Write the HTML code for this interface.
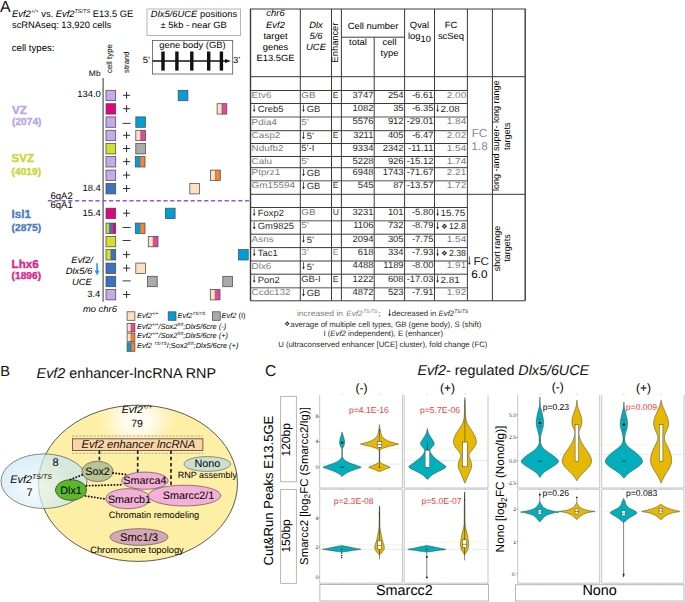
<!DOCTYPE html>
<html><head><meta charset="utf-8"><style>
html,body{margin:0;padding:0;background:#fff;}
svg{display:block;font-family:"Liberation Sans", sans-serif;text-rendering:geometricPrecision;}
</style></head><body>
<svg width="685" height="602" viewBox="0 0 685 602">
<defs>
<radialGradient id="yg" cx="137" cy="419" r="34" gradientUnits="userSpaceOnUse" gradientTransform="translate(137 419) scale(1.15 0.9) translate(-137 -419)">
<stop offset="0" stop-color="#ffffff"/><stop offset="0.35" stop-color="#fffcec"/><stop offset="0.7" stop-color="#fef4c4"/><stop offset="1" stop-color="#fdf0a6"/></radialGradient>
<radialGradient id="bg" cx="33" cy="489" r="40" gradientUnits="userSpaceOnUse">
<stop offset="0" stop-color="#f4fafd"/><stop offset="0.45" stop-color="#dbeff8"/><stop offset="1" stop-color="#c3e4f4"/></radialGradient>
</defs>
<rect width="685" height="602" fill="#fff"/>
<text x="0" y="11.6" font-size="16" fill="#111">A</text>
<text x="12" y="16.6" font-size="9.35"><tspan font-style="italic">Evf2</tspan><tspan font-size="5.5" dy="-3.5" font-style="italic">+/+</tspan><tspan dy="3.5"> vs. </tspan><tspan font-style="italic">Evf2</tspan><tspan font-size="5.5" dy="-3.5" font-style="italic">TS/TS</tspan><tspan dy="3.5"> E13.5 GE</tspan></text>
<text x="12" y="27.8" font-size="9.35">scRNAseq: 13,920 cells</text>
<text x="11.8" y="50.7" font-size="9.6">cell types:</text>
<rect x="147" y="9" width="93.5" height="26.5" fill="white" stroke="#b5b5b5" stroke-width="1"/>
<text x="194" y="16.8" font-size="9" transform="matrix(1.045 0 0 1 -8.730 0)" text-anchor="middle"><tspan font-style="italic">Dlx5/6UCE</tspan> positions</text>
<text x="193.6" y="27.6" font-size="9" transform="matrix(1.045 0 0 1 -8.712 0)" text-anchor="middle">± 5kb - near GB</text>
<rect x="152.5" y="40.5" width="80.2" height="33.5" fill="white" stroke="#555" stroke-width="0.8"/>
<text x="192.5" y="48.3" font-size="9" transform="matrix(1.045 0 0 1 -8.662 0)" text-anchor="middle">gene body (GB)</text>
<line x1="152.5" y1="61" x2="227" y2="61" stroke="#111" stroke-width="1.6" />
<path d="M225 58.9 L231 61 L225 63.1 Z" fill="#111"/>
<rect x="161.3" y="51.5" width="3.4" height="19.1" fill="#111"/>
<rect x="175.20000000000002" y="51.5" width="3.4" height="19.1" fill="#111"/>
<rect x="190.10000000000002" y="51.5" width="3.4" height="19.1" fill="#111"/>
<rect x="207.0" y="51.5" width="3.4" height="19.1" fill="#111"/>
<rect x="219.70000000000002" y="51.5" width="3.4" height="19.1" fill="#111"/>
<text x="142.8" y="63.2" font-size="9" transform="matrix(1.045 0 0 1 -6.426 0)">5’</text>
<text x="233" y="63.2" font-size="9" transform="matrix(1.045 0 0 1 -10.485 0)">3’</text>
<text x="112.3" y="73" font-size="7.9" transform="rotate(-90 112.3 73)">cell type</text>
<text x="128.7" y="73" font-size="7.8" transform="rotate(-90 128.7 73)">strand</text>
<text x="100.6" y="76.1" font-size="8.1" transform="matrix(1.045 0 0 1 -4.527 0)" text-anchor="end">Mb</text>
<line x1="103.1" y1="78" x2="103.1" y2="301.7" stroke="#444" stroke-width="1.1" />
<text x="12" y="113.7" font-size="11.6" fill="#bca4e4" font-weight="bold" stroke="#bca4e4" stroke-width="0.35">VZ</text>
<text x="12" y="125.3" font-size="10.2" fill="#bca4e4" font-weight="bold" stroke="#bca4e4" stroke-width="0.35">(2074)</text>
<text x="11.6" y="162.1" font-size="11.6" fill="#c9d63a" font-weight="bold" stroke="#c9d63a" stroke-width="0.35">SVZ</text>
<text x="11.6" y="175.2" font-size="10.2" fill="#c9d63a" font-weight="bold" stroke="#c9d63a" stroke-width="0.35">(4019)</text>
<text x="11.6" y="218" font-size="11.6" fill="#4a7cc2" font-weight="bold" stroke="#4a7cc2" stroke-width="0.35">Isl1</text>
<text x="11.6" y="230.5" font-size="10.2" fill="#4a7cc2" font-weight="bold" stroke="#4a7cc2" stroke-width="0.35">(2875)</text>
<text x="11.6" y="267.6" font-size="11.6" fill="#e0218a" font-weight="bold" stroke="#e0218a" stroke-width="0.35">Lhx6</text>
<text x="11.6" y="279.3" font-size="10.2" fill="#e0218a" font-weight="bold" stroke="#e0218a" stroke-width="0.35">(1896)</text>
<text x="50.5" y="199" font-size="9.5">6qA2</text>
<text x="50.5" y="208.1" font-size="9.5">6qA1</text>
<line x1="47.8" y1="200.7" x2="249" y2="200.7" stroke="#9955dd" stroke-width="1.6" stroke-dasharray="4.2 2.6"/>
<text x="100.8" y="96.6" font-size="9" transform="matrix(1.045 0 0 1 -4.536 0)" text-anchor="end">134.0</text>
<text x="100.8" y="190.8" font-size="9" transform="matrix(1.045 0 0 1 -4.536 0)" text-anchor="end">18.4</text>
<text x="100.8" y="216.4" font-size="9" transform="matrix(1.045 0 0 1 -4.536 0)" text-anchor="end">15.4</text>
<text x="100.3" y="296.8" font-size="9" transform="matrix(1.045 0 0 1 -4.513 0)" text-anchor="end">3.4</text>
<text x="92.8" y="263" font-size="9" transform="matrix(1.045 0 0 1 -4.176 0)" text-anchor="end" font-style="italic">Evf2/</text>
<text x="92.3" y="274.2" font-size="9" transform="matrix(1.045 0 0 1 -4.153 0)" text-anchor="end" font-style="italic">Dlx5/6</text>
<text x="91.8" y="285.3" font-size="9" transform="matrix(1.045 0 0 1 -4.131 0)" text-anchor="end" font-style="italic">UCE</text>
<line x1="97.1" y1="263.3" x2="97.1" y2="272" stroke="#19a3d6" stroke-width="1.6" />
<path d="M94.6 270.5 L99.6 270.5 L97.1 275.5 Z" fill="#19a3d6"/>
<text x="82.9" y="312.2" font-size="9" transform="matrix(1.045 0 0 1 -3.730 0)" font-style="italic">mo chr6</text>
<rect x="106.0" y="90.3" width="9.7" height="10.4" fill="#c6a9ec"/>
<rect x="106" y="90.3" width="9.7" height="10.4" fill="none" stroke="#4a4a4a" stroke-width="0.75"/>
<line x1="123.1" y1="95.3" x2="130.1" y2="95.3" stroke="#222" stroke-width="0.95" />
<line x1="126.6" y1="91.8" x2="126.6" y2="98.8" stroke="#222" stroke-width="0.95" />
<rect x="106.0" y="103.7" width="9.7" height="10.4" fill="#e0047e"/>
<rect x="106" y="103.7" width="9.7" height="10.4" fill="none" stroke="#4a4a4a" stroke-width="0.75"/>
<line x1="123.1" y1="108.7" x2="130.1" y2="108.7" stroke="#222" stroke-width="0.95" />
<line x1="126.6" y1="105.2" x2="126.6" y2="112.2" stroke="#222" stroke-width="0.95" />
<rect x="106.0" y="116.9" width="9.7" height="10.4" fill="#c6a9ec"/>
<rect x="106" y="116.9" width="9.7" height="10.4" fill="none" stroke="#4a4a4a" stroke-width="0.75"/>
<line x1="122.5" y1="123.4" x2="130.7" y2="123.4" stroke="#333" stroke-width="0.95" />
<rect x="106.0" y="130.3" width="9.7" height="10.4" fill="#c6a9ec"/>
<rect x="106" y="130.3" width="9.7" height="10.4" fill="none" stroke="#4a4a4a" stroke-width="0.75"/>
<line x1="123.1" y1="135.3" x2="130.1" y2="135.3" stroke="#222" stroke-width="0.95" />
<line x1="126.6" y1="131.8" x2="126.6" y2="138.8" stroke="#222" stroke-width="0.95" />
<rect x="106.0" y="143.5" width="9.7" height="10.4" fill="#d3df30"/>
<rect x="106" y="143.5" width="9.7" height="10.4" fill="none" stroke="#4a4a4a" stroke-width="0.75"/>
<line x1="123.1" y1="148.5" x2="130.1" y2="148.5" stroke="#222" stroke-width="0.95" />
<line x1="126.6" y1="145.0" x2="126.6" y2="152.0" stroke="#222" stroke-width="0.95" />
<rect x="106.0" y="156.6" width="9.7" height="10.4" fill="#c6a9ec"/>
<rect x="106" y="156.6" width="9.7" height="10.4" fill="none" stroke="#4a4a4a" stroke-width="0.75"/>
<line x1="123.1" y1="161.6" x2="130.1" y2="161.6" stroke="#222" stroke-width="0.95" />
<line x1="126.6" y1="158.1" x2="126.6" y2="165.1" stroke="#222" stroke-width="0.95" />
<rect x="106.0" y="170.1" width="9.7" height="10.4" fill="#c6a9ec"/>
<rect x="106" y="170.1" width="9.7" height="10.4" fill="none" stroke="#4a4a4a" stroke-width="0.75"/>
<line x1="123.1" y1="175.1" x2="130.1" y2="175.1" stroke="#222" stroke-width="0.95" />
<line x1="126.6" y1="171.6" x2="126.6" y2="178.6" stroke="#222" stroke-width="0.95" />
<rect x="106.0" y="183.5" width="9.7" height="10.4" fill="#3b71bf"/>
<rect x="106" y="183.5" width="9.7" height="10.4" fill="none" stroke="#4a4a4a" stroke-width="0.75"/>
<line x1="123.1" y1="188.5" x2="130.1" y2="188.5" stroke="#222" stroke-width="0.95" />
<line x1="126.6" y1="185.0" x2="126.6" y2="192.0" stroke="#222" stroke-width="0.95" />
<rect x="106.0" y="208.2" width="9.7" height="10.4" fill="#e0047e"/>
<rect x="106" y="208.2" width="9.7" height="10.4" fill="none" stroke="#4a4a4a" stroke-width="0.75"/>
<line x1="123.1" y1="213.2" x2="130.1" y2="213.2" stroke="#222" stroke-width="0.95" />
<line x1="126.6" y1="209.7" x2="126.6" y2="216.7" stroke="#222" stroke-width="0.95" />
<rect x="106.0" y="223.1" width="3.233333333333333" height="10.4" fill="#d3df30"/>
<rect x="109.23333333333333" y="223.1" width="3.233333333333333" height="10.4" fill="#3b71bf"/>
<rect x="112.46666666666667" y="223.1" width="3.233333333333333" height="10.4" fill="#e0047e"/>
<line x1="109.23333333333333" y1="223.1" x2="109.23333333333333" y2="233.5" stroke="#555" stroke-width="0.5" />
<line x1="112.46666666666667" y1="223.1" x2="112.46666666666667" y2="233.5" stroke="#555" stroke-width="0.5" />
<rect x="106" y="223.1" width="9.7" height="10.4" fill="none" stroke="#4a4a4a" stroke-width="0.75"/>
<line x1="122.5" y1="227.5" x2="130.7" y2="227.5" stroke="#333" stroke-width="0.95" />
<rect x="106.0" y="236.4" width="9.7" height="10.4" fill="#d3df30"/>
<rect x="106" y="236.4" width="9.7" height="10.4" fill="none" stroke="#4a4a4a" stroke-width="0.75"/>
<line x1="122.5" y1="240.5" x2="130.7" y2="240.5" stroke="#333" stroke-width="0.95" />
<rect x="106.0" y="249.6" width="4.85" height="10.4" fill="#d3df30"/>
<rect x="110.85" y="249.6" width="4.85" height="10.4" fill="#3b71bf"/>
<line x1="110.85" y1="249.6" x2="110.85" y2="260.0" stroke="#555" stroke-width="0.5" />
<rect x="106" y="249.6" width="9.7" height="10.4" fill="none" stroke="#4a4a4a" stroke-width="0.75"/>
<line x1="123.1" y1="254.6" x2="130.1" y2="254.6" stroke="#222" stroke-width="0.95" />
<line x1="126.6" y1="251.1" x2="126.6" y2="258.1" stroke="#222" stroke-width="0.95" />
<rect x="106.0" y="263.1" width="9.7" height="10.4" fill="#3b71bf"/>
<rect x="106" y="263.1" width="9.7" height="10.4" fill="none" stroke="#4a4a4a" stroke-width="0.75"/>
<line x1="123.1" y1="268.1" x2="130.1" y2="268.1" stroke="#222" stroke-width="0.95" />
<line x1="126.6" y1="264.6" x2="126.6" y2="271.6" stroke="#222" stroke-width="0.95" />
<rect x="106.0" y="276.3" width="9.7" height="10.4" fill="#3b71bf"/>
<rect x="106" y="276.3" width="9.7" height="10.4" fill="none" stroke="#4a4a4a" stroke-width="0.75"/>
<line x1="122.5" y1="280.9" x2="130.7" y2="280.9" stroke="#333" stroke-width="0.95" />
<rect x="106.0" y="289.5" width="9.7" height="10.4" fill="#c6a9ec"/>
<rect x="106" y="289.5" width="9.7" height="10.4" fill="none" stroke="#4a4a4a" stroke-width="0.75"/>
<line x1="123.1" y1="294.5" x2="130.1" y2="294.5" stroke="#222" stroke-width="0.95" />
<line x1="126.6" y1="291.0" x2="126.6" y2="298.0" stroke="#222" stroke-width="0.95" />
<rect x="178.2" y="90.3" width="9.7" height="10.4" fill="#00a0d6"/>
<rect x="178.2" y="90.3" width="9.7" height="10.4" fill="none" stroke="#4a4a4a" stroke-width="0.75"/>
<rect x="217.1" y="103.7" width="4.85" height="10.4" fill="#fde0c2"/>
<rect x="221.95" y="103.7" width="4.85" height="10.4" fill="#e4479e"/>
<line x1="221.95" y1="103.7" x2="221.95" y2="114.10000000000001" stroke="#555" stroke-width="0.5" />
<rect x="217.1" y="103.7" width="9.7" height="10.4" fill="none" stroke="#4a4a4a" stroke-width="0.75"/>
<rect x="135.8" y="116.9" width="9.7" height="10.4" fill="#00a0d6"/>
<rect x="135.8" y="116.9" width="9.7" height="10.4" fill="none" stroke="#4a4a4a" stroke-width="0.75"/>
<rect x="135.8" y="130.3" width="4.85" height="10.4" fill="#fde0c2"/>
<rect x="140.65" y="130.3" width="4.85" height="10.4" fill="#e4479e"/>
<line x1="140.65" y1="130.3" x2="140.65" y2="140.70000000000002" stroke="#555" stroke-width="0.5" />
<rect x="135.8" y="130.3" width="9.7" height="10.4" fill="none" stroke="#4a4a4a" stroke-width="0.75"/>
<rect x="135.8" y="143.5" width="9.7" height="10.4" fill="#aaaaaa"/>
<rect x="135.8" y="143.5" width="9.7" height="10.4" fill="none" stroke="#4a4a4a" stroke-width="0.75"/>
<rect x="135.3" y="156.6" width="4.85" height="10.4" fill="#00a0d6"/>
<rect x="140.15" y="156.6" width="4.85" height="10.4" fill="#fb8232"/>
<line x1="140.15" y1="156.6" x2="140.15" y2="167.0" stroke="#555" stroke-width="0.5" />
<rect x="135.3" y="156.6" width="9.7" height="10.4" fill="none" stroke="#4a4a4a" stroke-width="0.75"/>
<rect x="210.6" y="170.1" width="4.85" height="10.4" fill="#fde0c2"/>
<rect x="215.45" y="170.1" width="4.85" height="10.4" fill="#fb8232"/>
<line x1="215.45" y1="170.1" x2="215.45" y2="180.5" stroke="#555" stroke-width="0.5" />
<rect x="210.6" y="170.1" width="9.7" height="10.4" fill="none" stroke="#4a4a4a" stroke-width="0.75"/>
<rect x="189.8" y="183.5" width="9.7" height="10.4" fill="#fde0c2"/>
<rect x="189.8" y="183.5" width="9.7" height="10.4" fill="none" stroke="#4a4a4a" stroke-width="0.75"/>
<rect x="165.4" y="208.2" width="9.7" height="10.4" fill="#00a0d6"/>
<rect x="165.4" y="208.2" width="9.7" height="10.4" fill="none" stroke="#4a4a4a" stroke-width="0.75"/>
<rect x="135.3" y="223.1" width="4.85" height="10.4" fill="#00a0d6"/>
<rect x="140.15" y="223.1" width="4.85" height="10.4" fill="#fb8232"/>
<line x1="140.15" y1="223.1" x2="140.15" y2="233.5" stroke="#555" stroke-width="0.5" />
<rect x="135.3" y="223.1" width="9.7" height="10.4" fill="none" stroke="#4a4a4a" stroke-width="0.75"/>
<rect x="148.3" y="236.4" width="4.85" height="10.4" fill="#fde0c2"/>
<rect x="153.15" y="236.4" width="4.85" height="10.4" fill="#e4479e"/>
<line x1="153.15" y1="236.4" x2="153.15" y2="246.8" stroke="#555" stroke-width="0.5" />
<rect x="148.3" y="236.4" width="9.7" height="10.4" fill="none" stroke="#4a4a4a" stroke-width="0.75"/>
<rect x="238.5" y="249.6" width="9.7" height="10.4" fill="#00a0d6"/>
<rect x="238.5" y="249.6" width="9.7" height="10.4" fill="none" stroke="#4a4a4a" stroke-width="0.75"/>
<rect x="135.8" y="263.1" width="9.7" height="10.4" fill="#fde0c2"/>
<rect x="135.8" y="263.1" width="9.7" height="10.4" fill="none" stroke="#4a4a4a" stroke-width="0.75"/>
<rect x="147.5" y="276.3" width="9.7" height="10.4" fill="#aaaaaa"/>
<rect x="147.5" y="276.3" width="9.7" height="10.4" fill="none" stroke="#4a4a4a" stroke-width="0.75"/>
<rect x="222.8" y="276.3" width="9.7" height="10.4" fill="#aaaaaa"/>
<rect x="222.8" y="276.3" width="9.7" height="10.4" fill="none" stroke="#4a4a4a" stroke-width="0.75"/>
<rect x="210.3" y="289.5" width="4.85" height="10.4" fill="#fde0c2"/>
<rect x="215.15" y="289.5" width="4.85" height="10.4" fill="#e4479e"/>
<line x1="215.15" y1="289.5" x2="215.15" y2="299.9" stroke="#555" stroke-width="0.5" />
<rect x="210.3" y="289.5" width="9.7" height="10.4" fill="none" stroke="#4a4a4a" stroke-width="0.75"/>
<rect x="127.1" y="311.8" width="7.8" height="8.5" fill="#fde0c2"/>
<rect x="127.1" y="311.8" width="7.8" height="8.5" fill="none" stroke="#4a4a4a" stroke-width="0.75"/>
<text x="137" y="317.6" font-size="7.45"><tspan font-style="italic">Evf2</tspan><tspan font-size="4.5" dy="-3" font-style="italic">+/+</tspan></text>
<rect x="168.2" y="311.8" width="7.8" height="8.5" fill="#00a0d6"/>
<rect x="168.2" y="311.8" width="7.8" height="8.5" fill="none" stroke="#4a4a4a" stroke-width="0.75"/>
<text x="177.5" y="317.6" font-size="7.45"><tspan font-style="italic">Evf2</tspan><tspan font-size="4.5" dy="-3" font-style="italic">TS/TS</tspan></text>
<rect x="212.4" y="311.8" width="7.8" height="8.5" fill="#aaaaaa"/>
<rect x="212.4" y="311.8" width="7.8" height="8.5" fill="none" stroke="#4a4a4a" stroke-width="0.75"/>
<text x="221.5" y="317.6" font-size="7.45"><tspan font-style="italic">Evf2</tspan> (I)</text>
<rect x="127.1" y="323.4" width="3.9" height="8.5" fill="#fde0c2"/>
<rect x="131.0" y="323.4" width="3.9" height="8.5" fill="#e4479e"/>
<line x1="131.0" y1="323.4" x2="131.0" y2="331.9" stroke="#555" stroke-width="0.5" />
<rect x="127.1" y="323.4" width="7.8" height="8.5" fill="none" stroke="#4a4a4a" stroke-width="0.75"/>
<text x="137" y="328.8" font-size="7.45" font-style="italic"><tspan font-style="italic">Evf2</tspan><tspan font-size="4.5" dy="-3" font-style="italic">+/+</tspan><tspan dy="3">/Sox2</tspan><tspan font-size="4.5" dy="-3" font-style="italic">fl/fl</tspan><tspan dy="3">;Dlx5/6cre (-)</tspan></text>
<rect x="127.1" y="333.1" width="3.9" height="8.5" fill="#fde0c2"/>
<rect x="131.0" y="333.1" width="3.9" height="8.5" fill="#fb8232"/>
<line x1="131.0" y1="333.1" x2="131.0" y2="341.6" stroke="#555" stroke-width="0.5" />
<rect x="127.1" y="333.1" width="7.8" height="8.5" fill="none" stroke="#4a4a4a" stroke-width="0.75"/>
<text x="137" y="338.4" font-size="7.45" font-style="italic"><tspan font-style="italic">Evf2</tspan><tspan font-size="4.5" dy="-3" font-style="italic">+/+</tspan><tspan dy="3">/Sox2</tspan><tspan font-size="4.5" dy="-3" font-style="italic">fl/fl</tspan><tspan dy="3">;Dlx5/6cre (+)</tspan></text>
<rect x="127.1" y="342.8" width="3.9" height="8.5" fill="#00a0d6"/>
<rect x="131.0" y="342.8" width="3.9" height="8.5" fill="#fb8232"/>
<line x1="131.0" y1="342.8" x2="131.0" y2="351.3" stroke="#555" stroke-width="0.5" />
<rect x="127.1" y="342.8" width="7.8" height="8.5" fill="none" stroke="#4a4a4a" stroke-width="0.75"/>
<text x="137" y="348.4" font-size="7.45" font-style="italic">Evf2 <tspan font-size="4.5" dy="-3" font-style="italic">TS/TS</tspan><tspan dy="3" font-style="normal">/;Sox2</tspan><tspan font-size="4.5" dy="-3" font-style="italic">fl/fl</tspan><tspan dy="3">;Dlx5/6cre (+)</tspan></text>
<line x1="250.0" y1="9" x2="525.7" y2="9" stroke="#3a3a3a" stroke-width="1" />
<line x1="341.4" y1="37.2" x2="404.6" y2="37.2" stroke="#3a3a3a" stroke-width="1" />
<line x1="250.5" y1="76.7" x2="467.4" y2="76.7" stroke="#3a3a3a" stroke-width="1" />
<line x1="250.5" y1="90.5" x2="467.4" y2="90.5" stroke="#3a3a3a" stroke-width="1" />
<line x1="250.5" y1="103.5" x2="467.4" y2="103.5" stroke="#3a3a3a" stroke-width="1" />
<line x1="250.5" y1="117" x2="467.4" y2="117" stroke="#8c8c8c" stroke-width="1.5" />
<line x1="250.5" y1="130.7" x2="467.4" y2="130.7" stroke="#3a3a3a" stroke-width="1" />
<line x1="250.5" y1="143.5" x2="467.4" y2="143.5" stroke="#3a3a3a" stroke-width="1" />
<line x1="250.5" y1="156.5" x2="467.4" y2="156.5" stroke="#3a3a3a" stroke-width="1" />
<line x1="250.5" y1="167.7" x2="467.4" y2="167.7" stroke="#3a3a3a" stroke-width="1" />
<line x1="250.5" y1="180.8" x2="467.4" y2="180.8" stroke="#8c8c8c" stroke-width="1.5" />
<line x1="250.5" y1="194.3" x2="467.4" y2="194.3" stroke="#3a3a3a" stroke-width="1" />
<line x1="250.5" y1="207.5" x2="467.4" y2="207.5" stroke="#3a3a3a" stroke-width="1" />
<line x1="250.5" y1="220.8" x2="467.4" y2="220.8" stroke="#8c8c8c" stroke-width="1.5" />
<line x1="250.5" y1="234.2" x2="467.4" y2="234.2" stroke="#3a3a3a" stroke-width="1" />
<line x1="250.5" y1="247.6" x2="467.4" y2="247.6" stroke="#3a3a3a" stroke-width="1" />
<line x1="250.5" y1="261" x2="467.4" y2="261" stroke="#3a3a3a" stroke-width="1" />
<line x1="250.5" y1="274.2" x2="467.4" y2="274.2" stroke="#3a3a3a" stroke-width="1" />
<line x1="250.5" y1="287.8" x2="467.4" y2="287.8" stroke="#8c8c8c" stroke-width="1.5" />
<line x1="250.5" y1="300.8" x2="467.4" y2="300.8" stroke="#3a3a3a" stroke-width="1" />
<line x1="467.4" y1="76.7" x2="525.2" y2="76.7" stroke="#3a3a3a" stroke-width="1" />
<line x1="467.4" y1="194.3" x2="525.2" y2="194.3" stroke="#3a3a3a" stroke-width="1" />
<line x1="467.4" y1="300.8" x2="525.2" y2="300.8" stroke="#3a3a3a" stroke-width="1" />
<line x1="250.5" y1="9" x2="250.5" y2="300.8" stroke="#3a3a3a" stroke-width="1.4" />
<line x1="300.3" y1="9" x2="300.3" y2="300.8" stroke="#3a3a3a" stroke-width="1" />
<line x1="331.5" y1="9" x2="331.5" y2="300.8" stroke="#3a3a3a" stroke-width="1" />
<line x1="341.4" y1="9" x2="341.4" y2="300.8" stroke="#3a3a3a" stroke-width="1" />
<line x1="374.2" y1="37.2" x2="374.2" y2="300.8" stroke="#3a3a3a" stroke-width="1" />
<line x1="404.6" y1="9" x2="404.6" y2="300.8" stroke="#3a3a3a" stroke-width="1" />
<line x1="434.5" y1="9" x2="434.5" y2="300.8" stroke="#3a3a3a" stroke-width="1" />
<line x1="467.4" y1="9" x2="467.4" y2="300.8" stroke="#3a3a3a" stroke-width="1" />
<line x1="492.4" y1="9" x2="492.4" y2="300.8" stroke="#3a3a3a" stroke-width="1" />
<line x1="525.2" y1="9" x2="525.2" y2="300.8" stroke="#3a3a3a" stroke-width="1.4" />
<text x="275.5" y="16" font-size="9" transform="matrix(1.045 0 0 1 -12.397 0)" text-anchor="middle" font-style="italic">chr6</text>
<text x="275.5" y="27.7" font-size="9" transform="matrix(1.045 0 0 1 -12.397 0)" text-anchor="middle" font-style="italic">Evf2</text>
<text x="275.5" y="38.7" font-size="9" transform="matrix(1.045 0 0 1 -12.397 0)" text-anchor="middle">target</text>
<text x="275.5" y="49.6" font-size="9" transform="matrix(1.045 0 0 1 -12.397 0)" text-anchor="middle">genes</text>
<text x="275.5" y="61.3" font-size="9" transform="matrix(1.045 0 0 1 -12.397 0)" text-anchor="middle">E13.5GE</text>
<text x="316" y="27.7" font-size="9" transform="matrix(1.045 0 0 1 -14.220 0)" text-anchor="middle" font-style="italic">Dlx</text>
<text x="316" y="38.7" font-size="9" transform="matrix(1.045 0 0 1 -14.220 0)" text-anchor="middle" font-style="italic">5/6</text>
<text x="316" y="49.6" font-size="9" transform="matrix(1.045 0 0 1 -14.220 0)" text-anchor="middle" font-style="italic">UCE</text>
<text x="337.9" y="62.4" font-size="9.3" transform="rotate(-90 337.9 62.4)">Enhancer</text>
<text x="373" y="28.5" font-size="9" transform="matrix(1.045 0 0 1 -16.785 0)" text-anchor="middle">Cell number</text>
<text x="358" y="45" font-size="9" transform="matrix(1.045 0 0 1 -16.110 0)" text-anchor="middle">total</text>
<text x="389.5" y="44.5" font-size="9" transform="matrix(1.045 0 0 1 -17.527 0)" text-anchor="middle">cell</text>
<text x="389.5" y="55.5" font-size="9" transform="matrix(1.045 0 0 1 -17.527 0)" text-anchor="middle">type</text>
<text x="419.5" y="27.7" font-size="9" transform="matrix(1.045 0 0 1 -18.877 0)" text-anchor="middle">Qval</text>
<text x="408" y="38.6" font-size="9" transform="matrix(1.045 0 0 1 -18.360 0)">log<tspan font-size="9" dy="3">10</tspan></text>
<text x="451" y="27.7" font-size="9" transform="matrix(1.045 0 0 1 -20.295 0)" text-anchor="middle">FC</text>
<text x="451" y="39" font-size="9" transform="matrix(1.045 0 0 1 -20.295 0)" text-anchor="middle">scSeq</text>
<text x="251.60" y="98.0" font-size="8.6" fill="#7c7c7c" textLength="19.79" lengthAdjust="spacingAndGlyphs">Etv6</text>
<text x="301.20" y="98.0" font-size="8.6" fill="#7c7c7c" textLength="14.29" lengthAdjust="spacingAndGlyphs">GB</text>
<text x="332.80" y="98.0" font-size="8.6" fill="#3a3a3a" textLength="5.74" lengthAdjust="spacingAndGlyphs">E</text>
<text x="373.4" y="97.8" font-size="9" transform="matrix(1.045 0 0 1 -16.803 0)" fill="#2a2a2a" text-anchor="end">3747</text>
<text x="403.6" y="97.8" font-size="9" transform="matrix(1.045 0 0 1 -18.162 0)" fill="#2a2a2a" text-anchor="end">254</text>
<text x="433.4" y="97.8" font-size="9" transform="matrix(1.045 0 0 1 -19.503 0)" fill="#2a2a2a" text-anchor="end">-6.61</text>
<text x="446.78" y="97.8" font-size="8.6" fill="#7c7c7c" textLength="19.42" lengthAdjust="spacingAndGlyphs">2.00</text>
<line x1="254.2" y1="104.7" x2="254.2" y2="110.8" stroke="#222" stroke-width="0.75" />
<path d="M252.85 109.7 L255.54999999999998 109.7 L254.2 112.1 Z" fill="#222"/>
<text x="257.8" y="112.0" font-size="9" transform="matrix(1.045 0 0 1 -11.601 0)" fill="#2a2a2a">Creb5</text>
<line x1="303.5" y1="104.7" x2="303.5" y2="110.8" stroke="#222" stroke-width="0.75" />
<path d="M302.15 109.7 L304.85 109.7 L303.5 112.1 Z" fill="#222"/>
<text x="306.8" y="112.0" font-size="9" transform="matrix(1.045 0 0 1 -13.806 0)" fill="#2a2a2a">GB</text>
<text x="373.4" y="110.8" font-size="9" transform="matrix(1.045 0 0 1 -16.803 0)" fill="#2a2a2a" text-anchor="end">1082</text>
<text x="403.6" y="110.8" font-size="9" transform="matrix(1.045 0 0 1 -18.162 0)" fill="#2a2a2a" text-anchor="end">35</text>
<text x="433.4" y="110.8" font-size="9" transform="matrix(1.045 0 0 1 -19.503 0)" fill="#2a2a2a" text-anchor="end">-6.35</text>
<line x1="437.6" y1="104.7" x2="437.6" y2="110.8" stroke="#222" stroke-width="0.75" />
<path d="M436.25 109.7 L438.95000000000005 109.7 L437.6 112.1 Z" fill="#222"/>
<text x="440.6" y="112.0" font-size="9" transform="matrix(1.1 0 0 1 -44.060 0)" fill="#2a2a2a">2.08</text>
<text x="251.60" y="124.5" font-size="8.6" fill="#7c7c7c" textLength="25.29" lengthAdjust="spacingAndGlyphs">Pdia4</text>
<text x="301.20" y="124.5" font-size="8.6" fill="#7c7c7c" textLength="7.70" lengthAdjust="spacingAndGlyphs">5’</text>
<text x="373.4" y="124.3" font-size="9" transform="matrix(1.045 0 0 1 -16.803 0)" fill="#2a2a2a" text-anchor="end">5576</text>
<text x="403.6" y="124.3" font-size="9" transform="matrix(1.045 0 0 1 -18.162 0)" fill="#2a2a2a" text-anchor="end">912</text>
<text x="433.4" y="124.3" font-size="9" transform="matrix(1.045 0 0 1 -19.503 0)" fill="#2a2a2a" text-anchor="end">-29.01</text>
<text x="446.78" y="124.3" font-size="8.6" fill="#7c7c7c" textLength="19.42" lengthAdjust="spacingAndGlyphs">1.84</text>
<text x="251.60" y="138.2" font-size="8.6" fill="#7c7c7c" textLength="28.59" lengthAdjust="spacingAndGlyphs">Casp2</text>
<line x1="303.5" y1="131.89999999999998" x2="303.5" y2="138.0" stroke="#222" stroke-width="0.75" />
<path d="M302.15 136.89999999999998 L304.85 136.89999999999998 L303.5 139.29999999999998 Z" fill="#222"/>
<text x="306.8" y="139.2" font-size="9" transform="matrix(1.045 0 0 1 -13.806 0)" fill="#2a2a2a">5’</text>
<text x="332.80" y="138.2" font-size="8.6" fill="#3a3a3a" textLength="5.74" lengthAdjust="spacingAndGlyphs">E</text>
<text x="373.4" y="138.0" font-size="9" transform="matrix(1.045 0 0 1 -16.803 0)" fill="#2a2a2a" text-anchor="end">3211</text>
<text x="403.6" y="138.0" font-size="9" transform="matrix(1.045 0 0 1 -18.162 0)" fill="#2a2a2a" text-anchor="end">405</text>
<text x="433.4" y="138.0" font-size="9" transform="matrix(1.045 0 0 1 -19.503 0)" fill="#2a2a2a" text-anchor="end">-6.47</text>
<text x="446.78" y="138.0" font-size="8.6" fill="#7c7c7c" textLength="19.42" lengthAdjust="spacingAndGlyphs">2.02</text>
<text x="251.60" y="151.0" font-size="8.6" fill="#7c7c7c" textLength="31.89" lengthAdjust="spacingAndGlyphs">Ndufb2</text>
<text x="301.2" y="151.3" font-size="9" transform="matrix(1.045 0 0 1 -13.554 0)" fill="#2a2a2a">5’-I</text>
<text x="373.4" y="150.8" font-size="9" transform="matrix(1.045 0 0 1 -16.803 0)" fill="#2a2a2a" text-anchor="end">9334</text>
<text x="403.6" y="150.8" font-size="9" transform="matrix(1.045 0 0 1 -18.162 0)" fill="#2a2a2a" text-anchor="end">2342</text>
<text x="433.4" y="150.8" font-size="9" transform="matrix(1.045 0 0 1 -19.503 0)" fill="#2a2a2a" text-anchor="end">-11.11</text>
<text x="446.78" y="150.8" font-size="8.6" fill="#7c7c7c" textLength="19.42" lengthAdjust="spacingAndGlyphs">1.54</text>
<text x="251.60" y="164.0" font-size="8.6" fill="#7c7c7c" textLength="20.34" lengthAdjust="spacingAndGlyphs">Calu</text>
<text x="301.20" y="164.0" font-size="8.6" fill="#7c7c7c" textLength="7.70" lengthAdjust="spacingAndGlyphs">5’</text>
<text x="373.4" y="163.8" font-size="9" transform="matrix(1.045 0 0 1 -16.803 0)" fill="#2a2a2a" text-anchor="end">5228</text>
<text x="403.6" y="163.8" font-size="9" transform="matrix(1.045 0 0 1 -18.162 0)" fill="#2a2a2a" text-anchor="end">926</text>
<text x="433.4" y="163.8" font-size="9" transform="matrix(1.045 0 0 1 -19.503 0)" fill="#2a2a2a" text-anchor="end">-15.12</text>
<text x="446.78" y="163.8" font-size="8.6" fill="#7c7c7c" textLength="19.42" lengthAdjust="spacingAndGlyphs">1.74</text>
<text x="251.60" y="175.2" font-size="8.6" fill="#7c7c7c" textLength="28.58" lengthAdjust="spacingAndGlyphs">Ptprz1</text>
<line x1="303.5" y1="168.89999999999998" x2="303.5" y2="175.0" stroke="#222" stroke-width="0.75" />
<path d="M302.15 173.89999999999998 L304.85 173.89999999999998 L303.5 176.29999999999998 Z" fill="#222"/>
<text x="306.8" y="176.2" font-size="9" transform="matrix(1.045 0 0 1 -13.806 0)" fill="#2a2a2a">GB</text>
<text x="373.4" y="175.0" font-size="9" transform="matrix(1.045 0 0 1 -16.803 0)" fill="#2a2a2a" text-anchor="end">6948</text>
<text x="403.6" y="175.0" font-size="9" transform="matrix(1.045 0 0 1 -18.162 0)" fill="#2a2a2a" text-anchor="end">1743</text>
<text x="433.4" y="175.0" font-size="9" transform="matrix(1.045 0 0 1 -19.503 0)" fill="#2a2a2a" text-anchor="end">-71.67</text>
<text x="446.78" y="175.0" font-size="8.6" fill="#7c7c7c" textLength="19.42" lengthAdjust="spacingAndGlyphs">2.21</text>
<text x="251.60" y="188.3" font-size="8.6" fill="#7c7c7c" textLength="43.43" lengthAdjust="spacingAndGlyphs">Gm15594</text>
<line x1="303.5" y1="182.0" x2="303.5" y2="188.10000000000002" stroke="#222" stroke-width="0.75" />
<path d="M302.15 187.0 L304.85 187.0 L303.5 189.4 Z" fill="#222"/>
<text x="306.8" y="189.3" font-size="9" transform="matrix(1.045 0 0 1 -13.806 0)" fill="#2a2a2a">GB</text>
<text x="332.80" y="188.3" font-size="8.6" fill="#3a3a3a" textLength="5.74" lengthAdjust="spacingAndGlyphs">E</text>
<text x="373.4" y="188.10000000000002" font-size="9" transform="matrix(1.045 0 0 1 -16.803 0)" fill="#2a2a2a" text-anchor="end">545</text>
<text x="403.6" y="188.10000000000002" font-size="9" transform="matrix(1.045 0 0 1 -18.162 0)" fill="#2a2a2a" text-anchor="end">87</text>
<text x="433.4" y="188.10000000000002" font-size="9" transform="matrix(1.045 0 0 1 -19.503 0)" fill="#2a2a2a" text-anchor="end">-13.57</text>
<text x="446.78" y="188.10000000000002" font-size="8.6" fill="#7c7c7c" textLength="19.42" lengthAdjust="spacingAndGlyphs">1.72</text>
<line x1="254.2" y1="208.7" x2="254.2" y2="214.8" stroke="#222" stroke-width="0.75" />
<path d="M252.85 213.7 L255.54999999999998 213.7 L254.2 216.1 Z" fill="#222"/>
<text x="257.8" y="216.0" font-size="9" transform="matrix(1.045 0 0 1 -11.601 0)" fill="#2a2a2a">Foxp2</text>
<text x="301.20" y="215.0" font-size="8.6" fill="#7c7c7c" textLength="14.29" lengthAdjust="spacingAndGlyphs">GB</text>
<text x="332.80" y="215.0" font-size="8.6" fill="#3a3a3a" textLength="6.21" lengthAdjust="spacingAndGlyphs">U</text>
<text x="373.4" y="214.8" font-size="9" transform="matrix(1.045 0 0 1 -16.803 0)" fill="#2a2a2a" text-anchor="end">3231</text>
<text x="403.6" y="214.8" font-size="9" transform="matrix(1.045 0 0 1 -18.162 0)" fill="#2a2a2a" text-anchor="end">101</text>
<text x="433.4" y="214.8" font-size="9" transform="matrix(1.045 0 0 1 -19.503 0)" fill="#2a2a2a" text-anchor="end">-5.80</text>
<line x1="437.6" y1="208.7" x2="437.6" y2="214.8" stroke="#222" stroke-width="0.75" />
<path d="M436.25 213.7 L438.95000000000005 213.7 L437.6 216.1 Z" fill="#222"/>
<text x="440.6" y="216.0" font-size="9" transform="matrix(1.1 0 0 1 -44.060 0)" fill="#2a2a2a">15.75</text>
<line x1="254.2" y1="222.0" x2="254.2" y2="228.10000000000002" stroke="#222" stroke-width="0.75" />
<path d="M252.85 227.0 L255.54999999999998 227.0 L254.2 229.4 Z" fill="#222"/>
<text x="257.8" y="229.3" font-size="9" transform="matrix(1.045 0 0 1 -11.601 0)" fill="#2a2a2a">Gm9825</text>
<text x="301.20" y="228.3" font-size="8.6" fill="#7c7c7c" textLength="7.70" lengthAdjust="spacingAndGlyphs">5’</text>
<text x="373.4" y="228.10000000000002" font-size="9" transform="matrix(1.045 0 0 1 -16.803 0)" fill="#2a2a2a" text-anchor="end">1106</text>
<text x="403.6" y="228.10000000000002" font-size="9" transform="matrix(1.045 0 0 1 -18.162 0)" fill="#2a2a2a" text-anchor="end">732</text>
<text x="433.4" y="228.10000000000002" font-size="9" transform="matrix(1.045 0 0 1 -19.503 0)" fill="#2a2a2a" text-anchor="end">-8.79</text>
<line x1="437.6" y1="222.0" x2="437.6" y2="228.10000000000002" stroke="#222" stroke-width="0.75" />
<path d="M436.25 227.0 L438.95000000000005 227.0 L437.6 229.4 Z" fill="#222"/>
<path d="M444.4 223.60000000000002 L447.09999999999997 226.3 L444.4 229.0 L441.7 226.3 Z" fill="#222"/>
<line x1="443.04999999999995" y1="224.95000000000002" x2="445.75" y2="227.65" stroke="#fff" stroke-width="0.45" />
<line x1="443.04999999999995" y1="227.65" x2="445.75" y2="224.95000000000002" stroke="#fff" stroke-width="0.45" />
<circle cx="444.4" cy="226.3" r="0.55" fill="#fff"/>
<text x="448.9" y="229.3" font-size="8.8" fill="#2a2a2a">12.8</text>
<text x="251.60" y="241.7" font-size="8.6" fill="#7c7c7c" textLength="21.99" lengthAdjust="spacingAndGlyphs">Asns</text>
<line x1="303.5" y1="235.39999999999998" x2="303.5" y2="241.5" stroke="#222" stroke-width="0.75" />
<path d="M302.15 240.39999999999998 L304.85 240.39999999999998 L303.5 242.79999999999998 Z" fill="#222"/>
<text x="306.8" y="242.7" font-size="9" transform="matrix(1.045 0 0 1 -13.806 0)" fill="#2a2a2a">5’</text>
<text x="373.4" y="241.5" font-size="9" transform="matrix(1.045 0 0 1 -16.803 0)" fill="#2a2a2a" text-anchor="end">2094</text>
<text x="403.6" y="241.5" font-size="9" transform="matrix(1.045 0 0 1 -18.162 0)" fill="#2a2a2a" text-anchor="end">305</text>
<text x="433.4" y="241.5" font-size="9" transform="matrix(1.045 0 0 1 -19.503 0)" fill="#2a2a2a" text-anchor="end">-7.75</text>
<text x="446.78" y="241.5" font-size="8.6" fill="#7c7c7c" textLength="19.42" lengthAdjust="spacingAndGlyphs">1.54</text>
<line x1="254.2" y1="248.8" x2="254.2" y2="254.90000000000003" stroke="#222" stroke-width="0.75" />
<path d="M252.85 253.8 L255.54999999999998 253.8 L254.2 256.20000000000005 Z" fill="#222"/>
<text x="257.8" y="256.1" font-size="9" transform="matrix(1.045 0 0 1 -11.601 0)" fill="#2a2a2a">Tac1</text>
<text x="301.20" y="255.1" font-size="8.6" fill="#7c7c7c" textLength="7.70" lengthAdjust="spacingAndGlyphs">3’</text>
<text x="332.80" y="255.1" font-size="8.6" fill="#8a8a8a" textLength="5.74" lengthAdjust="spacingAndGlyphs">E</text>
<text x="373.4" y="254.9" font-size="9" transform="matrix(1.045 0 0 1 -16.803 0)" fill="#2a2a2a" text-anchor="end">618</text>
<text x="403.6" y="254.9" font-size="9" transform="matrix(1.045 0 0 1 -18.162 0)" fill="#2a2a2a" text-anchor="end">334</text>
<text x="433.4" y="254.9" font-size="9" transform="matrix(1.045 0 0 1 -19.503 0)" fill="#2a2a2a" text-anchor="end">-7.93</text>
<line x1="437.6" y1="248.8" x2="437.6" y2="254.90000000000003" stroke="#222" stroke-width="0.75" />
<path d="M436.25 253.8 L438.95000000000005 253.8 L437.6 256.20000000000005 Z" fill="#222"/>
<path d="M444.4 250.40000000000003 L447.09999999999997 253.10000000000002 L444.4 255.8 L441.7 253.10000000000002 Z" fill="#222"/>
<line x1="443.04999999999995" y1="251.75000000000003" x2="445.75" y2="254.45000000000002" stroke="#fff" stroke-width="0.45" />
<line x1="443.04999999999995" y1="254.45000000000002" x2="445.75" y2="251.75000000000003" stroke="#fff" stroke-width="0.45" />
<circle cx="444.4" cy="253.10000000000002" r="0.55" fill="#fff"/>
<text x="448.9" y="256.1" font-size="8.8" fill="#2a2a2a">2.38</text>
<text x="251.60" y="268.5" font-size="8.6" fill="#7c7c7c" textLength="19.78" lengthAdjust="spacingAndGlyphs">Dlx6</text>
<line x1="303.5" y1="262.2" x2="303.5" y2="268.3" stroke="#222" stroke-width="0.75" />
<path d="M302.15 267.2 L304.85 267.2 L303.5 269.6 Z" fill="#222"/>
<text x="306.8" y="269.5" font-size="9" transform="matrix(1.045 0 0 1 -13.806 0)" fill="#2a2a2a">5’</text>
<text x="373.4" y="268.3" font-size="9" transform="matrix(1.045 0 0 1 -16.803 0)" fill="#2a2a2a" text-anchor="end">4488</text>
<text x="403.6" y="268.3" font-size="9" transform="matrix(1.045 0 0 1 -18.162 0)" fill="#2a2a2a" text-anchor="end">1189</text>
<text x="433.4" y="268.3" font-size="9" transform="matrix(1.045 0 0 1 -19.503 0)" fill="#2a2a2a" text-anchor="end">-8.00</text>
<text x="446.78" y="268.3" font-size="8.6" fill="#7c7c7c" textLength="19.42" lengthAdjust="spacingAndGlyphs">1.91</text>
<line x1="254.2" y1="275.4" x2="254.2" y2="281.5" stroke="#222" stroke-width="0.75" />
<path d="M252.85 280.4 L255.54999999999998 280.4 L254.2 282.8 Z" fill="#222"/>
<text x="257.8" y="282.7" font-size="9" transform="matrix(1.045 0 0 1 -11.601 0)" fill="#2a2a2a">Pon2</text>
<text x="301.2" y="282.0" font-size="9" transform="matrix(1.045 0 0 1 -13.554 0)" fill="#2a2a2a">GB-I</text>
<text x="332.80" y="281.7" font-size="8.6" fill="#3a3a3a" textLength="5.74" lengthAdjust="spacingAndGlyphs">E</text>
<text x="373.4" y="281.5" font-size="9" transform="matrix(1.045 0 0 1 -16.803 0)" fill="#2a2a2a" text-anchor="end">1222</text>
<text x="403.6" y="281.5" font-size="9" transform="matrix(1.045 0 0 1 -18.162 0)" fill="#2a2a2a" text-anchor="end">608</text>
<text x="433.4" y="281.5" font-size="9" transform="matrix(1.045 0 0 1 -19.503 0)" fill="#2a2a2a" text-anchor="end">-17.03</text>
<line x1="437.6" y1="275.4" x2="437.6" y2="281.5" stroke="#222" stroke-width="0.75" />
<path d="M436.25 280.4 L438.95000000000005 280.4 L437.6 282.8 Z" fill="#222"/>
<text x="440.6" y="282.7" font-size="9" transform="matrix(1.1 0 0 1 -44.060 0)" fill="#2a2a2a">2.81</text>
<text x="251.60" y="295.3" font-size="8.6" fill="#7c7c7c" textLength="39.03" lengthAdjust="spacingAndGlyphs">Ccdc132</text>
<line x1="303.5" y1="289.0" x2="303.5" y2="295.1" stroke="#222" stroke-width="0.75" />
<path d="M302.15 294.0 L304.85 294.0 L303.5 296.40000000000003 Z" fill="#222"/>
<text x="306.8" y="296.3" font-size="9" transform="matrix(1.045 0 0 1 -13.806 0)" fill="#2a2a2a">GB</text>
<text x="373.4" y="295.1" font-size="9" transform="matrix(1.045 0 0 1 -16.803 0)" fill="#2a2a2a" text-anchor="end">4872</text>
<text x="403.6" y="295.1" font-size="9" transform="matrix(1.045 0 0 1 -18.162 0)" fill="#2a2a2a" text-anchor="end">523</text>
<text x="433.4" y="295.1" font-size="9" transform="matrix(1.045 0 0 1 -19.503 0)" fill="#2a2a2a" text-anchor="end">-7.91</text>
<text x="446.78" y="295.1" font-size="8.6" fill="#7c7c7c" textLength="19.42" lengthAdjust="spacingAndGlyphs">1.92</text>
<text x="479.5" y="137" font-size="11.3" transform="matrix(1.045 0 0 1 -21.577 0)" fill="#8a8a8a" text-anchor="middle">FC</text>
<text x="479.5" y="150.3" font-size="11.3" transform="matrix(1.045 0 0 1 -21.577 0)" fill="#8a8a8a" text-anchor="middle">1.8</text>
<line x1="469.4" y1="256.5" x2="469.4" y2="263.8" stroke="#222" stroke-width="0.75" />
<path d="M468.04999999999995 262.7 L470.75 262.7 L469.4 265.1 Z" fill="#222"/>
<text x="473.4" y="265" font-size="11.2" transform="matrix(1.045 0 0 1 -21.303 0)" fill="#2a2a2a">FC</text>
<text x="479.5" y="277.6" font-size="11.2" transform="matrix(1.045 0 0 1 -21.577 0)" text-anchor="middle">6.0</text>
<text x="499.2" y="191" font-size="9" transform="rotate(-90 499.2 191)">long -and super- long range</text>
<text x="510.3" y="150" font-size="9" transform="rotate(-90 510.3 150)">targets</text>
<text x="500.0" y="271.3" font-size="9" transform="rotate(-90 500.0 271.3)">short range</text>
<text x="509.8" y="261.7" font-size="9" transform="rotate(-90 509.8 261.7)">targets</text>
<text x="296.90" y="316.1" font-size="7.8" fill="#7c7c7c" textLength="46.26" lengthAdjust="spacingAndGlyphs">increased in</text>
<text x="346.20" y="316.1" font-size="7.8" fill="#7c7c7c" font-style="italic" textLength="16.39" lengthAdjust="spacingAndGlyphs">Evf2</text>
<text x="363.30" y="313.0" font-size="5.0" fill="#7c7c7c" font-style="italic" textLength="14.17" lengthAdjust="spacingAndGlyphs">TS/TS</text>
<text x="378.6" y="316.1" font-size="7.8" fill="#2a2a2a">;</text>
<line x1="389.6" y1="309.3" x2="389.6" y2="315.1" stroke="#222" stroke-width="0.75" />
<path d="M388.25 314.0 L390.95000000000005 314.0 L389.6 316.40000000000003 Z" fill="#222"/>
<text x="391.8" y="316.1" font-size="7.8" fill="#2a2a2a">decreased in <tspan font-style="italic">Evf2</tspan><tspan font-size="5.0" dy="-3" font-style="italic">TS/TS</tspan></text>
<path d="M287.2 321.3 L289.59999999999997 323.7 L287.2 326.09999999999997 L284.8 323.7 Z" fill="#222"/>
<line x1="286.0" y1="322.5" x2="288.4" y2="324.9" stroke="#fff" stroke-width="0.45" />
<line x1="286.0" y1="324.9" x2="288.4" y2="322.5" stroke="#fff" stroke-width="0.45" />
<circle cx="287.2" cy="323.7" r="0.55" fill="#fff"/>
<text x="290.3" y="326.6" font-size="7.8" fill="#2a2a2a">average of multiple cell types, GB (gene body), S (shift)</text>
<text x="383.2" y="336" font-size="7.8" fill="#2a2a2a" text-anchor="middle">I (<tspan font-style="italic">Evf2</tspan> independent), E (enhancer)</text>
<text x="382.8" y="346.5" font-size="7.8" fill="#2a2a2a" text-anchor="middle">U (ultraconserved enhancer [UCE] cluster), fold change (FC)</text>
<text x="0.3" y="375.7" font-size="14.6" fill="#111">B</text>
<text x="36.6" y="377.5" font-size="14.35" fill="#111"><tspan font-style="italic">Evf2</tspan> enhancer-lncRNA RNP</text>
<ellipse cx="138" cy="483.3" rx="99.5" ry="78.1" fill="url(#yg)" stroke="#333" stroke-width="0.8" />
<ellipse cx="44" cy="481.2" rx="43" ry="27.3" fill="url(#bg)" stroke="#555" stroke-width="0.7" fill-opacity="0.7"/>
<text x="137" y="413" font-size="10.5" text-anchor="middle"><tspan font-style="italic">Evf2</tspan><tspan font-size="6.5" dy="-4" font-style="italic">+/+</tspan></text>
<text x="137" y="426.9" font-size="10.5" text-anchor="middle">79</text>
<text x="10.3" y="482.6" font-size="10.9" font-style="italic"><tspan font-style="italic">Evf2</tspan><tspan font-size="7.0" dy="-4" font-style="italic">TS/TS</tspan></text>
<text x="29.5" y="496" font-size="11" text-anchor="middle">7</text>
<text x="55.5" y="465.6" font-size="11" text-anchor="middle">8</text>
<line x1="72" y1="436" x2="203" y2="436" stroke="#888" stroke-width="0.7" stroke-dasharray="2.2 1.4"/>
<line x1="72" y1="453.3" x2="203" y2="453.3" stroke="#888" stroke-width="0.7" stroke-dasharray="2.2 1.4"/>
<rect x="72.5" y="438.8" width="130.4" height="11.7" fill="#fdd3a4" stroke="#444" stroke-width="0.8"/>
<text x="138.3" y="447.8" font-size="11.25" fill="#111" text-anchor="middle" font-style="italic">Evf2 enhancer lncRNA</text>
<line x1="99.4" y1="450.5" x2="99.4" y2="462" stroke="#222" stroke-width="1.7" stroke-dasharray="3.6 2.6"/>
<line x1="137.7" y1="450.5" x2="137.7" y2="472.5" stroke="#222" stroke-width="1.7" stroke-dasharray="3.6 2.6"/>
<line x1="171" y1="450.5" x2="171" y2="486" stroke="#222" stroke-width="1.7" stroke-dasharray="3.6 2.6"/>
<ellipse cx="207.3" cy="464" rx="23.3" ry="7.4" fill="#c9dfcf" stroke="#666" stroke-width="0.7" />
<text x="207.3" y="467.3" font-size="10.8" text-anchor="middle">Nono</text>
<text x="207.4" y="477.7" font-size="9" text-anchor="middle">RNP assembly</text>
<ellipse cx="144.9" cy="480.7" rx="23.3" ry="8.6" fill="#f4b0d6" stroke="#555" stroke-width="0.7" />
<text x="144.8" y="484.3" font-size="10.8" text-anchor="middle">Smarca4</text>
<ellipse cx="128" cy="498.7" rx="22.2" ry="10" fill="#f4b0d6" stroke="#555" stroke-width="0.7" />
<text x="129.5" y="502.6" font-size="10.8" text-anchor="middle">Smarcb1</text>
<ellipse cx="184.5" cy="495.6" rx="36.3" ry="10.4" fill="#f4b0d6" stroke="#555" stroke-width="0.7" />
<text x="188.5" y="499.3" font-size="10.8" text-anchor="middle">Smarcc2/1</text>
<ellipse cx="97.5" cy="471.4" rx="15.6" ry="10.2" fill="#b9c394" stroke="#555" stroke-width="0.7" />
<text x="97.5" y="475.3" font-size="10.8" text-anchor="middle">Sox2</text>
<ellipse cx="71" cy="490" rx="15.6" ry="10.4" fill="#5cb82b" stroke="#333" stroke-width="0.7" />
<text x="71" y="494" font-size="10.8" text-anchor="middle">Dlx1</text>
<line x1="70.5" y1="479.5" x2="83" y2="474.5" stroke="#111" stroke-width="1.9" stroke-dasharray="0.1 3" stroke-linecap="round"/>
<line x1="113" y1="473" x2="126.5" y2="474.5" stroke="#111" stroke-width="1.9" stroke-dasharray="0.1 3" stroke-linecap="round"/>
<line x1="86.5" y1="485.7" x2="122" y2="484.7" stroke="#111" stroke-width="1.9" stroke-dasharray="0.1 3" stroke-linecap="round"/>
<line x1="85.5" y1="496" x2="106.5" y2="499.2" stroke="#111" stroke-width="1.9" stroke-dasharray="0.1 3" stroke-linecap="round"/>
<text x="154" y="518.4" font-size="9.2" text-anchor="middle">Chromatin remodeling</text>
<ellipse cx="139" cy="537" rx="29" ry="8.3" fill="#d5a7b5" stroke="#555" stroke-width="0.7" />
<text x="139" y="541" font-size="11.2" text-anchor="middle">Smc1/3</text>
<text x="137" y="552.6" font-size="9.3" text-anchor="middle">Chromosome topology</text>
<text x="265.0" y="376.2" font-size="15.6" fill="#111">C</text>
<text x="417.4" y="374.9" font-size="14.3" fill="#111"><tspan font-style="italic">Evf2</tspan>- regulated <tspan font-style="italic">Dlx5/6UCE</tspan></text>
<text x="361.5" y="392.2" font-size="12" text-anchor="middle">(-)</text>
<text x="447.5" y="391.5" font-size="12" text-anchor="middle">(+)</text>
<text x="557.7" y="391.2" font-size="12" text-anchor="middle">(-)</text>
<text x="643.4" y="391.9" font-size="12" text-anchor="middle">(+)</text>
<text x="272.6" y="490.6" font-size="13.1" text-anchor="middle" transform="rotate(-90 272.6 490.6)">Cut&amp;Run Peaks E13.5GE</text>
<rect x="280.7" y="396.3" width="15.6" height="85.5" fill="white" stroke="#999" stroke-width="0.7"/>
<rect x="280.7" y="489.5" width="15.6" height="93.8" fill="white" stroke="#999" stroke-width="0.7"/>
<text x="290.4" y="439.8" font-size="12" text-anchor="middle" transform="rotate(-90 290.4 439.8)">120bp</text>
<text x="289.8" y="535.9" font-size="12" text-anchor="middle" transform="rotate(-90 289.8 535.9)">150bp</text>
<text x="307.6" y="486" font-size="11.4" text-anchor="middle" transform="rotate(-90 307.6 486)">Smarcc2 [log<tspan font-size="8.3" dy="2.6">2</tspan><tspan dy="-2.6">FC (Smarcc2/Ig)]</tspan></text>
<text x="504.2" y="489" font-size="11.8" text-anchor="middle" transform="rotate(-90 504.2 489)">Nono [log<tspan font-size="8.6" dy="2.7">2</tspan><tspan dy="-2.7">FC (Nono/Ig)]</tspan></text>
<rect x="319.9" y="584.5" width="168.6" height="16.5" fill="white" stroke="#999" stroke-width="0.7"/>
<text x="404.4" y="594.5" font-size="14.4" text-anchor="middle">Smarcc2</text>
<rect x="515.5" y="584.8" width="168.5" height="16.2" fill="white" stroke="#999" stroke-width="0.7"/>
<text x="599.6" y="594.5" font-size="14.4" text-anchor="middle">Nono</text>
<line x1="319.7" y1="395.0" x2="319.7" y2="488.0" stroke="#b5b5b5" stroke-width="0.8" />
<line x1="402.4" y1="395.0" x2="402.4" y2="488.0" stroke="#b5b5b5" stroke-width="0.8" />
<line x1="319.7" y1="488.0" x2="402.4" y2="488.0" stroke="#b5b5b5" stroke-width="0.8" />
<line x1="319.7" y1="489.2" x2="319.7" y2="583.2" stroke="#b5b5b5" stroke-width="0.8" />
<line x1="402.4" y1="489.2" x2="402.4" y2="583.2" stroke="#b5b5b5" stroke-width="0.8" />
<line x1="319.7" y1="583.2" x2="402.4" y2="583.2" stroke="#b5b5b5" stroke-width="0.8" />
<line x1="319.7" y1="489.2" x2="402.4" y2="489.2" stroke="#b5b5b5" stroke-width="0.8" />
<line x1="404.2" y1="395.0" x2="404.2" y2="488.0" stroke="#b5b5b5" stroke-width="0.8" />
<line x1="488.0" y1="395.0" x2="488.0" y2="488.0" stroke="#b5b5b5" stroke-width="0.8" />
<line x1="404.2" y1="488.0" x2="488.0" y2="488.0" stroke="#b5b5b5" stroke-width="0.8" />
<line x1="404.2" y1="489.2" x2="404.2" y2="583.2" stroke="#b5b5b5" stroke-width="0.8" />
<line x1="488.0" y1="489.2" x2="488.0" y2="583.2" stroke="#b5b5b5" stroke-width="0.8" />
<line x1="404.2" y1="583.2" x2="488.0" y2="583.2" stroke="#b5b5b5" stroke-width="0.8" />
<line x1="404.2" y1="489.2" x2="488.0" y2="489.2" stroke="#b5b5b5" stroke-width="0.8" />
<line x1="517.7" y1="395.0" x2="517.7" y2="488.0" stroke="#b5b5b5" stroke-width="0.8" />
<line x1="599.7" y1="395.0" x2="599.7" y2="488.0" stroke="#b5b5b5" stroke-width="0.8" />
<line x1="517.7" y1="488.0" x2="599.7" y2="488.0" stroke="#b5b5b5" stroke-width="0.8" />
<line x1="517.7" y1="489.2" x2="517.7" y2="583.2" stroke="#b5b5b5" stroke-width="0.8" />
<line x1="599.7" y1="489.2" x2="599.7" y2="583.2" stroke="#b5b5b5" stroke-width="0.8" />
<line x1="517.7" y1="583.2" x2="599.7" y2="583.2" stroke="#b5b5b5" stroke-width="0.8" />
<line x1="517.7" y1="489.2" x2="599.7" y2="489.2" stroke="#b5b5b5" stroke-width="0.8" />
<line x1="601.7" y1="395.0" x2="601.7" y2="488.0" stroke="#b5b5b5" stroke-width="0.8" />
<line x1="684.0" y1="395.0" x2="684.0" y2="488.0" stroke="#b5b5b5" stroke-width="0.8" />
<line x1="601.7" y1="488.0" x2="684.0" y2="488.0" stroke="#b5b5b5" stroke-width="0.8" />
<line x1="601.7" y1="489.2" x2="601.7" y2="583.2" stroke="#b5b5b5" stroke-width="0.8" />
<line x1="684.0" y1="489.2" x2="684.0" y2="583.2" stroke="#b5b5b5" stroke-width="0.8" />
<line x1="601.7" y1="583.2" x2="684.0" y2="583.2" stroke="#b5b5b5" stroke-width="0.8" />
<line x1="601.7" y1="489.2" x2="684.0" y2="489.2" stroke="#b5b5b5" stroke-width="0.8" />
<line x1="342.1" y1="393.5" x2="342.1" y2="395" stroke="#b5b5b5" stroke-width="0.6" />
<line x1="342.1" y1="488" x2="342.1" y2="490.5" stroke="#b5b5b5" stroke-width="0.6" />
<line x1="342.1" y1="583.2" x2="342.1" y2="584.5" stroke="#b5b5b5" stroke-width="0.6" />
<line x1="379.5" y1="393.5" x2="379.5" y2="395" stroke="#b5b5b5" stroke-width="0.6" />
<line x1="379.5" y1="488" x2="379.5" y2="490.5" stroke="#b5b5b5" stroke-width="0.6" />
<line x1="379.5" y1="583.2" x2="379.5" y2="584.5" stroke="#b5b5b5" stroke-width="0.6" />
<line x1="427.0" y1="393.5" x2="427.0" y2="395" stroke="#b5b5b5" stroke-width="0.6" />
<line x1="427.0" y1="488" x2="427.0" y2="490.5" stroke="#b5b5b5" stroke-width="0.6" />
<line x1="427.0" y1="583.2" x2="427.0" y2="584.5" stroke="#b5b5b5" stroke-width="0.6" />
<line x1="464.9" y1="393.5" x2="464.9" y2="395" stroke="#b5b5b5" stroke-width="0.6" />
<line x1="464.9" y1="488" x2="464.9" y2="490.5" stroke="#b5b5b5" stroke-width="0.6" />
<line x1="464.9" y1="583.2" x2="464.9" y2="584.5" stroke="#b5b5b5" stroke-width="0.6" />
<line x1="539.8" y1="393.5" x2="539.8" y2="395" stroke="#b5b5b5" stroke-width="0.6" />
<line x1="539.8" y1="488" x2="539.8" y2="490.5" stroke="#b5b5b5" stroke-width="0.6" />
<line x1="539.8" y1="583.2" x2="539.8" y2="584.5" stroke="#b5b5b5" stroke-width="0.6" />
<line x1="577.0" y1="393.5" x2="577.0" y2="395" stroke="#b5b5b5" stroke-width="0.6" />
<line x1="577.0" y1="488" x2="577.0" y2="490.5" stroke="#b5b5b5" stroke-width="0.6" />
<line x1="577.0" y1="583.2" x2="577.0" y2="584.5" stroke="#b5b5b5" stroke-width="0.6" />
<line x1="623.7" y1="393.5" x2="623.7" y2="395" stroke="#b5b5b5" stroke-width="0.6" />
<line x1="623.7" y1="488" x2="623.7" y2="490.5" stroke="#b5b5b5" stroke-width="0.6" />
<line x1="623.7" y1="583.2" x2="623.7" y2="584.5" stroke="#b5b5b5" stroke-width="0.6" />
<line x1="661.1" y1="393.5" x2="661.1" y2="395" stroke="#b5b5b5" stroke-width="0.6" />
<line x1="661.1" y1="488" x2="661.1" y2="490.5" stroke="#b5b5b5" stroke-width="0.6" />
<line x1="661.1" y1="583.2" x2="661.1" y2="584.5" stroke="#b5b5b5" stroke-width="0.6" />
<text x="318.3" y="418.2" font-size="5.2" fill="#333" text-anchor="end">8</text>
<line x1="318.6" y1="416.4" x2="319.7" y2="416.4" stroke="#333" stroke-width="0.5" />
<text x="318.3" y="443.40000000000003" font-size="5.2" fill="#333" text-anchor="end">4</text>
<line x1="318.6" y1="441.6" x2="319.7" y2="441.6" stroke="#333" stroke-width="0.5" />
<text x="318.3" y="469.0" font-size="5.2" fill="#333" text-anchor="end">0</text>
<line x1="318.6" y1="467.2" x2="319.7" y2="467.2" stroke="#333" stroke-width="0.5" />
<text x="318.3" y="519.5999999999999" font-size="5.2" fill="#333" text-anchor="end">4</text>
<line x1="318.6" y1="517.8" x2="319.7" y2="517.8" stroke="#333" stroke-width="0.5" />
<text x="318.3" y="548.9" font-size="5.2" fill="#333" text-anchor="end">2</text>
<line x1="318.6" y1="547.1" x2="319.7" y2="547.1" stroke="#333" stroke-width="0.5" />
<text x="318.3" y="579.1999999999999" font-size="5.2" fill="#333" text-anchor="end">0</text>
<line x1="318.6" y1="577.4" x2="319.7" y2="577.4" stroke="#333" stroke-width="0.5" />
<text x="516.2" y="416.7" font-size="5.2" fill="#333" text-anchor="end">5.0</text>
<line x1="516.6" y1="414.9" x2="517.7" y2="414.9" stroke="#333" stroke-width="0.5" />
<text x="516.2" y="439.2" font-size="5.2" fill="#333" text-anchor="end">2.5</text>
<line x1="516.6" y1="437.4" x2="517.7" y2="437.4" stroke="#333" stroke-width="0.5" />
<text x="516.2" y="462.5" font-size="5.2" fill="#333" text-anchor="end">0.0</text>
<line x1="516.6" y1="460.7" x2="517.7" y2="460.7" stroke="#333" stroke-width="0.5" />
<text x="516.2" y="485.1" font-size="5.2" fill="#333" text-anchor="end">-2.5</text>
<line x1="516.6" y1="483.3" x2="517.7" y2="483.3" stroke="#333" stroke-width="0.5" />
<text x="516.2" y="510.90000000000003" font-size="5.2" fill="#333" text-anchor="end">2</text>
<line x1="516.6" y1="509.1" x2="517.7" y2="509.1" stroke="#333" stroke-width="0.5" />
<text x="516.2" y="543.5" font-size="5.2" fill="#333" text-anchor="end">1</text>
<line x1="516.6" y1="541.7" x2="517.7" y2="541.7" stroke="#333" stroke-width="0.5" />
<text x="516.2" y="575.5" font-size="5.2" fill="#333" text-anchor="end">0.</text>
<line x1="516.6" y1="573.7" x2="517.7" y2="573.7" stroke="#333" stroke-width="0.5" />
<line x1="319.7" y1="448.2" x2="402.4" y2="448.2" stroke="#f0e080" stroke-width="0.6" stroke-dasharray="1.4 1.4"/>
<line x1="319.7" y1="464.1" x2="402.4" y2="464.1" stroke="#7fd6de" stroke-width="0.6" stroke-dasharray="1.4 1.4"/>
<line x1="404.2" y1="449.0" x2="488" y2="449.0" stroke="#f0e080" stroke-width="0.6" stroke-dasharray="1.4 1.4"/>
<line x1="404.2" y1="460.4" x2="488" y2="460.4" stroke="#7fd6de" stroke-width="0.6" stroke-dasharray="1.4 1.4"/>
<line x1="319.7" y1="544.4" x2="402.4" y2="544.4" stroke="#f0e080" stroke-width="0.6" stroke-dasharray="1.4 1.4"/>
<line x1="319.7" y1="549.4" x2="402.4" y2="549.4" stroke="#7fd6de" stroke-width="0.6" stroke-dasharray="1.4 1.4"/>
<line x1="404.2" y1="542.1" x2="488" y2="542.1" stroke="#f0e080" stroke-width="0.6" stroke-dasharray="1.4 1.4"/>
<line x1="404.2" y1="549.4" x2="488" y2="549.4" stroke="#7fd6de" stroke-width="0.6" stroke-dasharray="1.4 1.4"/>
<line x1="517.7" y1="454.2" x2="599.7" y2="454.2" stroke="#7fd6de" stroke-width="0.6" stroke-dasharray="1.4 1.4"/>
<line x1="601.7" y1="444.8" x2="684" y2="444.8" stroke="#f0e080" stroke-width="0.6" stroke-dasharray="1.4 1.4"/>
<line x1="601.7" y1="454.3" x2="684" y2="454.3" stroke="#7fd6de" stroke-width="0.6" stroke-dasharray="1.4 1.4"/>
<line x1="517.7" y1="511.8" x2="599.7" y2="511.8" stroke="#f0e080" stroke-width="0.6" stroke-dasharray="1.4 1.4"/>
<line x1="601.7" y1="511.5" x2="684" y2="511.5" stroke="#f0e080" stroke-width="0.6" stroke-dasharray="1.4 1.4"/>
<path d="M342.10 431.90 C342.20 432.25 342.45 433.15 342.70 434.00 C342.95 434.85 343.32 436.00 343.60 437.00 C343.88 438.00 344.22 439.08 344.40 440.00 C344.58 440.92 344.73 441.67 344.70 442.50 C344.67 443.33 344.43 444.25 344.20 445.00 C343.97 445.75 343.58 446.42 343.30 447.00 C343.02 447.58 342.70 448.00 342.55 448.50 C342.40 449.00 342.43 448.75 342.40 450.00 C342.38 451.25 342.33 454.75 342.40 456.00 C342.47 457.25 342.58 457.00 342.80 457.50 C343.02 458.00 343.30 458.50 343.70 459.00 C344.10 459.50 344.53 460.00 345.20 460.50 C345.87 461.00 346.72 461.50 347.70 462.00 C348.68 462.50 349.78 463.00 351.10 463.50 C352.42 464.00 354.27 464.53 355.60 465.00 C356.93 465.47 358.17 465.93 359.10 466.30 C360.03 466.67 361.20 466.88 361.20 467.20 C361.20 467.52 360.12 467.82 359.10 468.20 C358.08 468.58 356.43 469.03 355.10 469.50 C353.77 469.97 352.35 470.50 351.10 471.00 C349.85 471.50 348.60 472.00 347.60 472.50 C346.60 473.00 345.80 473.53 345.10 474.00 C344.40 474.47 343.90 474.87 343.40 475.30 C342.90 475.73 342.32 476.38 342.10 476.60 L342.10 476.60 C341.88 476.38 341.30 475.73 340.80 475.30 C340.30 474.87 339.80 474.47 339.10 474.00 C338.40 473.53 337.60 473.00 336.60 472.50 C335.60 472.00 334.35 471.50 333.10 471.00 C331.85 470.50 330.43 469.97 329.10 469.50 C327.77 469.03 326.12 468.58 325.10 468.20 C324.08 467.82 323.00 467.52 323.00 467.20 C323.00 466.88 324.17 466.67 325.10 466.30 C326.03 465.93 327.27 465.47 328.60 465.00 C329.93 464.53 331.78 464.00 333.10 463.50 C334.42 463.00 335.52 462.50 336.50 462.00 C337.48 461.50 338.33 461.00 339.00 460.50 C339.67 460.00 340.10 459.50 340.50 459.00 C340.90 458.50 341.18 458.00 341.40 457.50 C341.62 457.00 341.73 457.25 341.80 456.00 C341.87 454.75 341.82 451.25 341.80 450.00 C341.78 448.75 341.80 449.00 341.65 448.50 C341.50 448.00 341.18 447.58 340.90 447.00 C340.62 446.42 340.23 445.75 340.00 445.00 C339.77 444.25 339.53 443.33 339.50 442.50 C339.47 441.67 339.62 440.92 339.80 440.00 C339.98 439.08 340.32 438.00 340.60 437.00 C340.88 436.00 341.25 434.85 341.50 434.00 C341.75 433.15 342.00 432.25 342.10 431.90 Z" fill="#00afbb" stroke="#333" stroke-width="0.45"/>
<circle cx="342.1" cy="442.6" r="1.2" fill="#111"/>
<line x1="340" y1="467.2" x2="344.2" y2="467.2" stroke="#111" stroke-width="0.8" />
<path d="M379.50 424.60 C379.55 425.00 379.68 426.10 379.80 427.00 C379.92 427.90 380.03 429.00 380.20 430.00 C380.37 431.00 380.55 432.08 380.80 433.00 C381.05 433.92 381.33 434.75 381.70 435.50 C382.07 436.25 382.37 436.83 383.00 437.50 C383.63 438.17 384.42 438.83 385.50 439.50 C386.58 440.17 388.00 440.92 389.50 441.50 C391.00 442.08 393.00 442.57 394.50 443.00 C396.00 443.43 398.50 443.73 398.50 444.10 C398.50 444.47 396.00 444.83 394.50 445.20 C393.00 445.57 391.00 445.93 389.50 446.30 C388.00 446.67 386.67 447.03 385.50 447.40 C384.33 447.77 383.30 448.15 382.50 448.50 C381.70 448.85 381.13 449.17 380.70 449.50 C380.27 449.83 380.05 450.08 379.90 450.50 C379.75 450.92 379.82 450.25 379.80 452.00 C379.78 453.75 379.68 459.25 379.80 461.00 C379.92 462.75 380.13 462.07 380.50 462.50 C380.87 462.93 381.33 463.22 382.00 463.60 C382.67 463.98 383.58 464.40 384.50 464.80 C385.42 465.20 386.53 465.60 387.50 466.00 C388.47 466.40 390.30 466.80 390.30 467.20 C390.30 467.60 388.47 468.00 387.50 468.40 C386.53 468.80 385.42 469.22 384.50 469.60 C383.58 469.98 382.83 470.33 382.00 470.70 C381.17 471.07 379.92 471.62 379.50 471.80 L379.50 471.80 C379.08 471.62 377.83 471.07 377.00 470.70 C376.17 470.33 375.42 469.98 374.50 469.60 C373.58 469.22 372.47 468.80 371.50 468.40 C370.53 468.00 368.70 467.60 368.70 467.20 C368.70 466.80 370.53 466.40 371.50 466.00 C372.47 465.60 373.58 465.20 374.50 464.80 C375.42 464.40 376.33 463.98 377.00 463.60 C377.67 463.22 378.13 462.93 378.50 462.50 C378.87 462.07 379.08 462.75 379.20 461.00 C379.32 459.25 379.22 453.75 379.20 452.00 C379.18 450.25 379.25 450.92 379.10 450.50 C378.95 450.08 378.73 449.83 378.30 449.50 C377.87 449.17 377.30 448.85 376.50 448.50 C375.70 448.15 374.67 447.77 373.50 447.40 C372.33 447.03 371.00 446.67 369.50 446.30 C368.00 445.93 366.00 445.57 364.50 445.20 C363.00 444.83 360.50 444.47 360.50 444.10 C360.50 443.73 363.00 443.43 364.50 443.00 C366.00 442.57 368.00 442.08 369.50 441.50 C371.00 440.92 372.42 440.17 373.50 439.50 C374.58 438.83 375.37 438.17 376.00 437.50 C376.63 436.83 376.93 436.25 377.30 435.50 C377.67 434.75 377.95 433.92 378.20 433.00 C378.45 432.08 378.63 431.00 378.80 430.00 C378.97 429.00 379.08 427.90 379.20 427.00 C379.32 426.10 379.45 425.00 379.50 424.60 Z" fill="#e7b800" stroke="#333" stroke-width="0.45"/>
<line x1="379.5" y1="429" x2="379.5" y2="466" stroke="#333" stroke-width="0.5" />
<rect x="377.2" y="441.6" width="4.6" height="5.699999999999989" fill="white" stroke="#333" stroke-width="0.45"/>
<line x1="377.4" y1="444.4" x2="381.6" y2="444.4" stroke="#222" stroke-width="0.6" />
<circle cx="379.5" cy="430" r="0.6" fill="#111"/>
<circle cx="379.5" cy="467.2" r="0.8" fill="#111"/>
<text x="368.9" y="412.8" font-size="8.6" fill="#e8413a" text-anchor="middle">p=4.1E-16</text>
<path d="M427.40 428.40 C427.48 428.83 427.65 430.07 427.90 431.00 C428.15 431.93 428.45 433.00 428.90 434.00 C429.35 435.00 429.98 436.00 430.60 437.00 C431.22 438.00 432.00 439.00 432.60 440.00 C433.20 441.00 434.03 442.08 434.20 443.00 C434.37 443.92 433.98 444.75 433.60 445.50 C433.22 446.25 432.47 446.85 431.90 447.50 C431.33 448.15 430.48 448.73 430.20 449.40 C429.92 450.07 430.00 450.73 430.20 451.50 C430.40 452.27 430.78 453.08 431.40 454.00 C432.02 454.92 432.90 456.00 433.90 457.00 C434.90 458.00 436.15 459.00 437.40 460.00 C438.65 461.00 440.15 462.08 441.40 463.00 C442.65 463.92 444.12 464.87 444.90 465.50 C445.68 466.13 446.18 466.30 446.10 466.80 C446.02 467.30 445.35 467.88 444.40 468.50 C443.45 469.12 441.73 469.83 440.40 470.50 C439.07 471.17 437.65 471.83 436.40 472.50 C435.15 473.17 433.90 473.83 432.90 474.50 C431.90 475.17 431.12 475.88 430.40 476.50 C429.68 477.12 429.10 477.68 428.60 478.20 C428.10 478.72 427.60 479.37 427.40 479.60 L427.40 479.60 C427.20 479.37 426.70 478.72 426.20 478.20 C425.70 477.68 425.12 477.12 424.40 476.50 C423.68 475.88 422.90 475.17 421.90 474.50 C420.90 473.83 419.65 473.17 418.40 472.50 C417.15 471.83 415.73 471.17 414.40 470.50 C413.07 469.83 411.35 469.12 410.40 468.50 C409.45 467.88 408.78 467.30 408.70 466.80 C408.62 466.30 409.12 466.13 409.90 465.50 C410.68 464.87 412.15 463.92 413.40 463.00 C414.65 462.08 416.15 461.00 417.40 460.00 C418.65 459.00 419.90 458.00 420.90 457.00 C421.90 456.00 422.78 454.92 423.40 454.00 C424.02 453.08 424.40 452.27 424.60 451.50 C424.80 450.73 424.88 450.07 424.60 449.40 C424.32 448.73 423.47 448.15 422.90 447.50 C422.33 446.85 421.58 446.25 421.20 445.50 C420.82 444.75 420.43 443.92 420.60 443.00 C420.77 442.08 421.60 441.00 422.20 440.00 C422.80 439.00 423.58 438.00 424.20 437.00 C424.82 436.00 425.45 435.00 425.90 434.00 C426.35 433.00 426.65 431.93 426.90 431.00 C427.15 430.07 427.32 428.83 427.40 428.40 Z" fill="#00afbb" stroke="#333" stroke-width="0.45"/>
<line x1="427.4" y1="441.2" x2="427.4" y2="450.3" stroke="#222" stroke-width="0.5" />
<rect x="425.09999999999997" y="450.3" width="4.6" height="17.0" fill="white" stroke="#333" stroke-width="0.45"/>
<path d="M464.90 397.40 C464.95 398.67 465.12 402.40 465.20 405.00 C465.28 407.60 465.30 410.83 465.40 413.00 C465.50 415.17 465.62 416.67 465.80 418.00 C465.98 419.33 466.23 420.03 466.50 421.00 C466.77 421.97 466.92 422.80 467.40 423.80 C467.88 424.80 468.73 425.97 469.40 427.00 C470.07 428.03 470.65 428.83 471.40 430.00 C472.15 431.17 473.18 432.67 473.90 434.00 C474.62 435.33 475.28 436.65 475.70 438.00 C476.12 439.35 476.45 440.85 476.40 442.10 C476.35 443.35 475.90 444.43 475.40 445.50 C474.90 446.57 474.15 447.50 473.40 448.50 C472.65 449.50 471.62 450.43 470.90 451.50 C470.18 452.57 469.35 453.90 469.10 454.90 C468.85 455.90 469.13 456.57 469.40 457.50 C469.67 458.43 470.35 459.50 470.70 460.50 C471.05 461.50 471.33 462.60 471.50 463.50 C471.67 464.40 471.75 465.07 471.70 465.90 C471.65 466.73 471.50 467.57 471.20 468.50 C470.90 469.43 470.33 470.50 469.90 471.50 C469.47 472.50 469.03 473.50 468.60 474.50 C468.17 475.50 467.72 476.50 467.30 477.50 C466.88 478.50 466.50 479.55 466.10 480.50 C465.70 481.45 465.10 482.75 464.90 483.20 L464.90 483.20 C464.70 482.75 464.10 481.45 463.70 480.50 C463.30 479.55 462.92 478.50 462.50 477.50 C462.08 476.50 461.63 475.50 461.20 474.50 C460.77 473.50 460.33 472.50 459.90 471.50 C459.47 470.50 458.90 469.43 458.60 468.50 C458.30 467.57 458.15 466.73 458.10 465.90 C458.05 465.07 458.13 464.40 458.30 463.50 C458.47 462.60 458.75 461.50 459.10 460.50 C459.45 459.50 460.13 458.43 460.40 457.50 C460.67 456.57 460.95 455.90 460.70 454.90 C460.45 453.90 459.62 452.57 458.90 451.50 C458.18 450.43 457.15 449.50 456.40 448.50 C455.65 447.50 454.90 446.57 454.40 445.50 C453.90 444.43 453.45 443.35 453.40 442.10 C453.35 440.85 453.68 439.35 454.10 438.00 C454.52 436.65 455.18 435.33 455.90 434.00 C456.62 432.67 457.65 431.17 458.40 430.00 C459.15 428.83 459.73 428.03 460.40 427.00 C461.07 425.97 461.92 424.80 462.40 423.80 C462.88 422.80 463.03 421.97 463.30 421.00 C463.57 420.03 463.82 419.33 464.00 418.00 C464.18 416.67 464.30 415.17 464.40 413.00 C464.50 410.83 464.52 407.60 464.60 405.00 C464.68 402.40 464.85 398.67 464.90 397.40 Z" fill="#e7b800" stroke="#333" stroke-width="0.45"/>
<line x1="464.9" y1="400" x2="464.9" y2="442.1" stroke="#333" stroke-width="0.5" />
<rect x="462.59999999999997" y="442.1" width="4.6" height="24.69999999999999" fill="white" stroke="#333" stroke-width="0.45"/>
<text x="440" y="412.9" font-size="8.6" fill="#e8413a" text-anchor="middle">p=5.7E-06</text>
<path d="M341.70 545.60 C342.12 545.67 343.28 545.83 344.20 546.00 C345.12 546.17 346.12 546.38 347.20 546.60 C348.28 546.82 349.37 547.03 350.70 547.30 C352.03 547.57 353.50 547.87 355.20 548.20 C356.90 548.53 360.90 548.97 360.90 549.30 C360.90 549.63 356.98 549.93 355.20 550.20 C353.42 550.47 351.70 550.68 350.20 550.90 C348.70 551.12 347.62 551.30 346.20 551.50 C344.78 551.70 342.45 552.00 341.70 552.10 L341.70 552.10 C340.95 552.00 338.62 551.70 337.20 551.50 C335.78 551.30 334.70 551.12 333.20 550.90 C331.70 550.68 329.98 550.47 328.20 550.20 C326.42 549.93 322.50 549.63 322.50 549.30 C322.50 548.97 326.50 548.53 328.20 548.20 C329.90 547.87 331.37 547.57 332.70 547.30 C334.03 547.03 335.12 546.82 336.20 546.60 C337.28 546.38 338.28 546.17 339.20 546.00 C340.12 545.83 341.28 545.67 341.70 545.60 Z" fill="#00afbb" stroke="#333" stroke-width="0.45"/>
<circle cx="341.7" cy="553.1" r="0.75" fill="#111"/>
<circle cx="341.7" cy="555.4" r="0.75" fill="#111"/>
<circle cx="341.7" cy="557.4" r="0.75" fill="#111"/>
<circle cx="341.7" cy="549.3" r="0.7" fill="#111"/>
<path d="M379.50 506.00 C379.55 507.50 379.73 512.00 379.80 515.00 C379.87 518.00 379.85 521.83 379.90 524.00 C379.95 526.17 380.00 526.83 380.10 528.00 C380.20 529.17 380.33 530.00 380.50 531.00 C380.67 532.00 380.90 533.00 381.10 534.00 C381.30 535.00 381.48 536.00 381.70 537.00 C381.92 538.00 382.17 539.08 382.40 540.00 C382.63 540.92 382.85 541.67 383.10 542.50 C383.35 543.33 383.68 544.20 383.90 545.00 C384.12 545.80 384.40 546.55 384.40 547.30 C384.40 548.05 384.18 548.80 383.90 549.50 C383.62 550.20 383.13 550.87 382.70 551.50 C382.27 552.13 381.83 552.73 381.30 553.30 C380.77 553.87 379.80 554.63 379.50 554.90 L379.50 554.90 C379.20 554.63 378.23 553.87 377.70 553.30 C377.17 552.73 376.73 552.13 376.30 551.50 C375.87 550.87 375.38 550.20 375.10 549.50 C374.82 548.80 374.60 548.05 374.60 547.30 C374.60 546.55 374.88 545.80 375.10 545.00 C375.32 544.20 375.65 543.33 375.90 542.50 C376.15 541.67 376.37 540.92 376.60 540.00 C376.83 539.08 377.08 538.00 377.30 537.00 C377.52 536.00 377.70 535.00 377.90 534.00 C378.10 533.00 378.33 532.00 378.50 531.00 C378.67 530.00 378.80 529.17 378.90 528.00 C379.00 526.83 379.05 526.17 379.10 524.00 C379.15 521.83 379.13 518.00 379.20 515.00 C379.27 512.00 379.45 507.50 379.50 506.00 Z" fill="#e7b800" stroke="#333" stroke-width="0.45"/>
<line x1="379.5" y1="506" x2="379.5" y2="540.9" stroke="#222" stroke-width="0.55" />
<line x1="379.5" y1="549.1" x2="379.5" y2="559.5" stroke="#222" stroke-width="0.55" />
<circle cx="379.5" cy="513" r="0.6" fill="#111"/>
<circle cx="379.5" cy="516" r="0.6" fill="#111"/>
<rect x="377.6" y="540.9" width="3.8" height="8.200000000000045" fill="white" stroke="#333" stroke-width="0.45"/>
<line x1="377.6" y1="545.5" x2="381.4" y2="545.5" stroke="#222" stroke-width="0.5" />
<text x="353.6" y="503.6" font-size="8.6" fill="#e8413a" text-anchor="middle">p=2.3E-08</text>
<path d="M426.80 545.60 C427.22 545.67 428.38 545.83 429.30 546.00 C430.22 546.17 431.22 546.38 432.30 546.60 C433.38 546.82 434.47 547.03 435.80 547.30 C437.13 547.57 438.63 547.85 440.30 548.20 C441.97 548.55 445.80 549.07 445.80 549.40 C445.80 549.73 442.05 549.95 440.30 550.20 C438.55 550.45 436.80 550.68 435.30 550.90 C433.80 551.12 432.72 551.30 431.30 551.50 C429.88 551.70 427.55 552.00 426.80 552.10 L426.80 552.10 C426.05 552.00 423.72 551.70 422.30 551.50 C420.88 551.30 419.80 551.12 418.30 550.90 C416.80 550.68 415.05 550.45 413.30 550.20 C411.55 549.95 407.80 549.73 407.80 549.40 C407.80 549.07 411.63 548.55 413.30 548.20 C414.97 547.85 416.47 547.57 417.80 547.30 C419.13 547.03 420.22 546.82 421.30 546.60 C422.38 546.38 423.38 546.17 424.30 546.00 C425.22 545.83 426.38 545.67 426.80 545.60 Z" fill="#00afbb" stroke="#333" stroke-width="0.45"/>
<line x1="426.8" y1="552" x2="426.8" y2="577.5" stroke="#333" stroke-width="0.6" />
<circle cx="426.8" cy="549.4" r="0.7" fill="#111"/>
<circle cx="426.8" cy="557" r="0.9" fill="#111"/>
<circle cx="426.8" cy="577.5" r="0.9" fill="#111"/>
<path d="M464.60 492.20 C464.65 494.33 464.83 500.37 464.90 505.00 C464.97 509.63 464.95 516.67 465.00 520.00 C465.05 523.33 465.10 523.77 465.20 525.00 C465.30 526.23 465.40 526.48 465.60 527.40 C465.80 528.32 466.15 529.47 466.40 530.50 C466.65 531.53 466.87 532.52 467.10 533.60 C467.33 534.68 467.58 535.85 467.80 537.00 C468.02 538.15 468.23 539.20 468.40 540.50 C468.57 541.80 468.80 543.63 468.80 544.80 C468.80 545.97 468.60 546.63 468.40 547.50 C468.20 548.37 467.97 549.17 467.60 550.00 C467.23 550.83 466.70 551.70 466.20 552.50 C465.70 553.30 464.87 554.42 464.60 554.80 L464.60 554.80 C464.33 554.42 463.50 553.30 463.00 552.50 C462.50 551.70 461.97 550.83 461.60 550.00 C461.23 549.17 461.00 548.37 460.80 547.50 C460.60 546.63 460.40 545.97 460.40 544.80 C460.40 543.63 460.63 541.80 460.80 540.50 C460.97 539.20 461.18 538.15 461.40 537.00 C461.62 535.85 461.87 534.68 462.10 533.60 C462.33 532.52 462.55 531.53 462.80 530.50 C463.05 529.47 463.40 528.32 463.60 527.40 C463.80 526.48 463.90 526.23 464.00 525.00 C464.10 523.77 464.15 523.33 464.20 520.00 C464.25 516.67 464.23 509.63 464.30 505.00 C464.37 500.37 464.55 494.33 464.60 492.20 Z" fill="#e7b800" stroke="#333" stroke-width="0.45"/>
<line x1="464.6" y1="492.2" x2="464.6" y2="539.8" stroke="#222" stroke-width="0.55" />
<line x1="464.6" y1="547.5" x2="464.6" y2="560.4" stroke="#222" stroke-width="0.55" />
<circle cx="464.6" cy="500" r="0.6" fill="#111"/>
<rect x="462.70000000000005" y="539.8" width="3.8" height="7.7000000000000455" fill="white" stroke="#333" stroke-width="0.45"/>
<line x1="462.7" y1="544.3" x2="466.5" y2="544.3" stroke="#222" stroke-width="0.5" />
<text x="441.5" y="503.6" font-size="8.6" fill="#e8413a" text-anchor="middle">p=5.0E-07</text>
<path d="M539.90 396.90 C539.94 397.75 540.07 400.48 540.15 402.00 C540.23 403.52 540.24 404.83 540.40 406.00 C540.56 407.17 540.85 408.00 541.10 409.00 C541.35 410.00 541.63 410.92 541.90 412.00 C542.17 413.08 542.47 414.33 542.70 415.50 C542.93 416.67 543.15 417.75 543.30 419.00 C543.45 420.25 543.63 421.67 543.60 423.00 C543.57 424.33 543.32 425.83 543.10 427.00 C542.88 428.17 542.57 429.00 542.30 430.00 C542.03 431.00 541.73 432.08 541.50 433.00 C541.27 433.92 541.05 434.67 540.90 435.50 C540.75 436.33 540.65 436.92 540.60 438.00 C540.55 439.08 540.52 440.92 540.60 442.00 C540.68 443.08 540.85 443.75 541.10 444.50 C541.35 445.25 541.72 445.88 542.10 446.50 C542.48 447.12 542.85 447.62 543.40 448.20 C543.95 448.78 544.65 449.37 545.40 450.00 C546.15 450.63 546.98 451.33 547.90 452.00 C548.82 452.67 549.82 453.25 550.90 454.00 C551.98 454.75 553.35 455.67 554.40 456.50 C555.45 457.33 556.50 458.22 557.20 459.00 C557.90 459.78 558.60 460.45 558.60 461.20 C558.60 461.95 557.98 462.70 557.20 463.50 C556.42 464.30 555.12 465.17 553.90 466.00 C552.68 466.83 551.23 467.67 549.90 468.50 C548.57 469.33 547.07 470.17 545.90 471.00 C544.73 471.83 543.68 472.75 542.90 473.50 C542.12 474.25 541.70 474.83 541.20 475.50 C540.70 476.17 540.12 477.17 539.90 477.50 L539.90 477.50 C539.68 477.17 539.10 476.17 538.60 475.50 C538.10 474.83 537.68 474.25 536.90 473.50 C536.12 472.75 535.07 471.83 533.90 471.00 C532.73 470.17 531.23 469.33 529.90 468.50 C528.57 467.67 527.12 466.83 525.90 466.00 C524.68 465.17 523.38 464.30 522.60 463.50 C521.82 462.70 521.20 461.95 521.20 461.20 C521.20 460.45 521.90 459.78 522.60 459.00 C523.30 458.22 524.35 457.33 525.40 456.50 C526.45 455.67 527.82 454.75 528.90 454.00 C529.98 453.25 530.98 452.67 531.90 452.00 C532.82 451.33 533.65 450.63 534.40 450.00 C535.15 449.37 535.85 448.78 536.40 448.20 C536.95 447.62 537.32 447.12 537.70 446.50 C538.08 445.88 538.45 445.25 538.70 444.50 C538.95 443.75 539.12 443.08 539.20 442.00 C539.28 440.92 539.25 439.08 539.20 438.00 C539.15 436.92 539.05 436.33 538.90 435.50 C538.75 434.67 538.53 433.92 538.30 433.00 C538.07 432.08 537.77 431.00 537.50 430.00 C537.23 429.00 536.92 428.17 536.70 427.00 C536.48 425.83 536.23 424.33 536.20 423.00 C536.17 421.67 536.35 420.25 536.50 419.00 C536.65 417.75 536.87 416.67 537.10 415.50 C537.33 414.33 537.63 413.08 537.90 412.00 C538.17 410.92 538.45 410.00 538.70 409.00 C538.95 408.00 539.24 407.17 539.40 406.00 C539.56 404.83 539.57 403.52 539.65 402.00 C539.73 400.48 539.86 397.75 539.90 396.90 Z" fill="#00afbb" stroke="#333" stroke-width="0.45"/>
<circle cx="539.9" cy="423" r="1.3" fill="#111"/>
<circle cx="539.9" cy="419.5" r="0.6" fill="#111"/>
<circle cx="539.9" cy="426.5" r="0.6" fill="#111"/>
<circle cx="539.9" cy="440" r="0.5" fill="#111"/>
<line x1="537.9" y1="461.2" x2="541.9" y2="461.2" stroke="#111" stroke-width="0.7" />
<path d="M576.90 400.10 C576.97 400.75 577.13 402.85 577.30 404.00 C577.47 405.15 577.63 406.00 577.90 407.00 C578.17 408.00 578.52 408.92 578.90 410.00 C579.28 411.08 579.80 412.33 580.20 413.50 C580.60 414.67 581.03 415.92 581.30 417.00 C581.57 418.08 581.70 419.15 581.80 420.00 C581.90 420.85 581.92 421.35 581.90 422.10 C581.88 422.85 581.87 423.68 581.70 424.50 C581.53 425.32 581.20 426.25 580.90 427.00 C580.60 427.75 580.20 428.33 579.90 429.00 C579.60 429.67 579.25 430.17 579.10 431.00 C578.95 431.83 578.93 433.00 579.00 434.00 C579.07 435.00 579.25 436.00 579.50 437.00 C579.75 438.00 580.05 438.92 580.50 440.00 C580.95 441.08 581.55 442.33 582.20 443.50 C582.85 444.67 583.57 445.75 584.40 447.00 C585.23 448.25 586.32 449.67 587.20 451.00 C588.08 452.33 589.03 453.75 589.70 455.00 C590.37 456.25 590.88 457.47 591.20 458.50 C591.52 459.53 591.65 460.28 591.60 461.20 C591.55 462.12 591.35 463.03 590.90 464.00 C590.45 464.97 589.73 466.00 588.90 467.00 C588.07 468.00 586.90 469.00 585.90 470.00 C584.90 471.00 583.85 472.00 582.90 473.00 C581.95 474.00 580.95 475.08 580.20 476.00 C579.45 476.92 578.95 477.70 578.40 478.50 C577.85 479.30 577.15 480.42 576.90 480.80 L576.90 480.80 C576.65 480.42 575.95 479.30 575.40 478.50 C574.85 477.70 574.35 476.92 573.60 476.00 C572.85 475.08 571.85 474.00 570.90 473.00 C569.95 472.00 568.90 471.00 567.90 470.00 C566.90 469.00 565.73 468.00 564.90 467.00 C564.07 466.00 563.35 464.97 562.90 464.00 C562.45 463.03 562.25 462.12 562.20 461.20 C562.15 460.28 562.28 459.53 562.60 458.50 C562.92 457.47 563.43 456.25 564.10 455.00 C564.77 453.75 565.72 452.33 566.60 451.00 C567.48 449.67 568.57 448.25 569.40 447.00 C570.23 445.75 570.95 444.67 571.60 443.50 C572.25 442.33 572.85 441.08 573.30 440.00 C573.75 438.92 574.05 438.00 574.30 437.00 C574.55 436.00 574.73 435.00 574.80 434.00 C574.87 433.00 574.85 431.83 574.70 431.00 C574.55 430.17 574.20 429.67 573.90 429.00 C573.60 428.33 573.20 427.75 572.90 427.00 C572.60 426.25 572.27 425.32 572.10 424.50 C571.93 423.68 571.92 422.85 571.90 422.10 C571.88 421.35 571.90 420.85 572.00 420.00 C572.10 419.15 572.23 418.08 572.50 417.00 C572.77 415.92 573.20 414.67 573.60 413.50 C574.00 412.33 574.52 411.08 574.90 410.00 C575.28 408.92 575.63 408.00 575.90 407.00 C576.17 406.00 576.33 405.15 576.50 404.00 C576.67 402.85 576.83 400.75 576.90 400.10 Z" fill="#e7b800" stroke="#333" stroke-width="0.45"/>
<rect x="575.1" y="424.6" width="3.6" height="36.599999999999966" fill="white" stroke="#333" stroke-width="0.45"/>
<text x="555.9" y="409.9" font-size="8.6" text-anchor="middle">p=0.23</text>
<path d="M623.90 401.80 C623.95 402.50 624.07 404.80 624.20 406.00 C624.33 407.20 624.50 408.00 624.70 409.00 C624.90 410.00 625.13 410.92 625.40 412.00 C625.67 413.08 626.02 414.33 626.30 415.50 C626.58 416.67 626.90 417.92 627.10 419.00 C627.30 420.08 627.42 421.07 627.50 422.00 C627.58 422.93 627.65 423.68 627.60 424.60 C627.55 425.52 627.40 426.52 627.20 427.50 C627.00 428.48 626.68 429.50 626.40 430.50 C626.12 431.50 625.75 432.50 625.50 433.50 C625.25 434.50 625.03 435.55 624.90 436.50 C624.77 437.45 624.70 438.37 624.70 439.20 C624.70 440.03 624.73 440.78 624.90 441.50 C625.07 442.22 625.33 442.83 625.70 443.50 C626.07 444.17 626.53 444.83 627.10 445.50 C627.67 446.17 628.22 446.75 629.10 447.50 C629.98 448.25 631.30 449.17 632.40 450.00 C633.50 450.83 634.68 451.67 635.70 452.50 C636.72 453.33 637.60 454.08 638.50 455.00 C639.40 455.92 640.42 456.97 641.10 458.00 C641.78 459.03 642.57 460.20 642.60 461.20 C642.63 462.20 641.98 463.12 641.30 464.00 C640.62 464.88 639.57 465.67 638.50 466.50 C637.43 467.33 636.13 468.17 634.90 469.00 C633.67 469.83 632.27 470.67 631.10 471.50 C629.93 472.33 628.80 473.22 627.90 474.00 C627.00 474.78 626.37 475.48 625.70 476.20 C625.03 476.92 624.20 477.95 623.90 478.30 L623.90 478.30 C623.60 477.95 622.77 476.92 622.10 476.20 C621.43 475.48 620.80 474.78 619.90 474.00 C619.00 473.22 617.87 472.33 616.70 471.50 C615.53 470.67 614.13 469.83 612.90 469.00 C611.67 468.17 610.37 467.33 609.30 466.50 C608.23 465.67 607.18 464.88 606.50 464.00 C605.82 463.12 605.17 462.20 605.20 461.20 C605.23 460.20 606.02 459.03 606.70 458.00 C607.38 456.97 608.40 455.92 609.30 455.00 C610.20 454.08 611.08 453.33 612.10 452.50 C613.12 451.67 614.30 450.83 615.40 450.00 C616.50 449.17 617.82 448.25 618.70 447.50 C619.58 446.75 620.13 446.17 620.70 445.50 C621.27 444.83 621.73 444.17 622.10 443.50 C622.47 442.83 622.73 442.22 622.90 441.50 C623.07 440.78 623.10 440.03 623.10 439.20 C623.10 438.37 623.03 437.45 622.90 436.50 C622.77 435.55 622.55 434.50 622.30 433.50 C622.05 432.50 621.68 431.50 621.40 430.50 C621.12 429.50 620.80 428.48 620.60 427.50 C620.40 426.52 620.25 425.52 620.20 424.60 C620.15 423.68 620.22 422.93 620.30 422.00 C620.38 421.07 620.50 420.08 620.70 419.00 C620.90 417.92 621.22 416.67 621.50 415.50 C621.78 414.33 622.13 413.08 622.40 412.00 C622.67 410.92 622.90 410.00 623.10 409.00 C623.30 408.00 623.47 407.20 623.60 406.00 C623.73 404.80 623.85 402.50 623.90 401.80 Z" fill="#00afbb" stroke="#333" stroke-width="0.45"/>
<circle cx="623.9" cy="424.6" r="1.3" fill="#111"/>
<circle cx="623.9" cy="420" r="0.6" fill="#111"/>
<circle cx="623.9" cy="429.5" r="0.6" fill="#111"/>
<circle cx="623.9" cy="440" r="0.5" fill="#111"/>
<line x1="621.9" y1="461.2" x2="625.9" y2="461.2" stroke="#111" stroke-width="0.7" />
<path d="M661.10 400.10 C661.20 400.58 661.45 402.02 661.70 403.00 C661.95 403.98 662.23 405.00 662.60 406.00 C662.97 407.00 663.43 407.92 663.90 409.00 C664.37 410.08 664.90 411.33 665.40 412.50 C665.90 413.67 666.45 414.83 666.90 416.00 C667.35 417.17 667.82 418.20 668.10 419.50 C668.38 420.80 668.60 422.55 668.60 423.80 C668.60 425.05 668.38 425.97 668.10 427.00 C667.82 428.03 667.32 429.00 666.90 430.00 C666.48 431.00 665.97 432.08 665.60 433.00 C665.23 433.92 664.90 434.73 664.70 435.50 C664.50 436.27 664.40 436.85 664.40 437.60 C664.40 438.35 664.45 439.10 664.70 440.00 C664.95 440.90 665.42 441.92 665.90 443.00 C666.38 444.08 667.03 445.33 667.60 446.50 C668.17 447.67 668.78 448.75 669.30 450.00 C669.82 451.25 670.33 452.75 670.70 454.00 C671.07 455.25 671.33 456.43 671.50 457.50 C671.67 458.57 671.73 459.40 671.70 460.40 C671.67 461.40 671.60 462.40 671.30 463.50 C671.00 464.60 670.47 465.83 669.90 467.00 C669.33 468.17 668.60 469.33 667.90 470.50 C667.20 471.67 666.40 472.83 665.70 474.00 C665.00 475.17 664.28 476.42 663.70 477.50 C663.12 478.58 662.63 479.55 662.20 480.50 C661.77 481.45 661.28 482.75 661.10 483.20 L661.10 483.20 C660.92 482.75 660.43 481.45 660.00 480.50 C659.57 479.55 659.08 478.58 658.50 477.50 C657.92 476.42 657.20 475.17 656.50 474.00 C655.80 472.83 655.00 471.67 654.30 470.50 C653.60 469.33 652.87 468.17 652.30 467.00 C651.73 465.83 651.20 464.60 650.90 463.50 C650.60 462.40 650.53 461.40 650.50 460.40 C650.47 459.40 650.53 458.57 650.70 457.50 C650.87 456.43 651.13 455.25 651.50 454.00 C651.87 452.75 652.38 451.25 652.90 450.00 C653.42 448.75 654.03 447.67 654.60 446.50 C655.17 445.33 655.82 444.08 656.30 443.00 C656.78 441.92 657.25 440.90 657.50 440.00 C657.75 439.10 657.80 438.35 657.80 437.60 C657.80 436.85 657.70 436.27 657.50 435.50 C657.30 434.73 656.97 433.92 656.60 433.00 C656.23 432.08 655.72 431.00 655.30 430.00 C654.88 429.00 654.38 428.03 654.10 427.00 C653.82 425.97 653.60 425.05 653.60 423.80 C653.60 422.55 653.82 420.80 654.10 419.50 C654.38 418.20 654.85 417.17 655.30 416.00 C655.75 414.83 656.30 413.67 656.80 412.50 C657.30 411.33 657.83 410.08 658.30 409.00 C658.77 407.92 659.23 407.00 659.60 406.00 C659.97 405.00 660.25 403.98 660.50 403.00 C660.75 402.02 661.00 400.58 661.10 400.10 Z" fill="#e7b800" stroke="#333" stroke-width="0.45"/>
<rect x="659.3000000000001" y="424.6" width="3.6" height="36.599999999999966" fill="white" stroke="#333" stroke-width="0.45"/>
<text x="641.5" y="409.6" font-size="8.6" fill="#e8413a" text-anchor="middle">p=0.009</text>
<path d="M539.80 501.50 C539.97 501.83 540.43 502.83 540.80 503.50 C541.17 504.17 541.50 504.83 542.00 505.50 C542.50 506.17 542.92 506.83 543.80 507.50 C544.68 508.17 545.80 508.92 547.30 509.50 C548.80 510.08 550.85 510.57 552.80 511.00 C554.75 511.43 559.00 511.73 559.00 512.10 C559.00 512.47 554.67 512.75 552.80 513.20 C550.93 513.65 549.13 514.25 547.80 514.80 C546.47 515.35 545.63 515.88 544.80 516.50 C543.97 517.12 543.38 517.87 542.80 518.50 C542.22 519.13 541.80 519.72 541.30 520.30 C540.80 520.88 540.05 521.72 539.80 522.00 L539.80 522.00 C539.55 521.72 538.80 520.88 538.30 520.30 C537.80 519.72 537.38 519.13 536.80 518.50 C536.22 517.87 535.63 517.12 534.80 516.50 C533.97 515.88 533.13 515.35 531.80 514.80 C530.47 514.25 528.67 513.65 526.80 513.20 C524.93 512.75 520.60 512.47 520.60 512.10 C520.60 511.73 524.85 511.43 526.80 511.00 C528.75 510.57 530.80 510.08 532.30 509.50 C533.80 508.92 534.92 508.17 535.80 507.50 C536.68 506.83 537.10 506.17 537.60 505.50 C538.10 504.83 538.43 504.17 538.80 503.50 C539.17 502.83 539.63 501.83 539.80 501.50 Z" fill="#00afbb" stroke="#333" stroke-width="0.45"/>
<line x1="539.8" y1="492.2" x2="539.8" y2="502" stroke="#333" stroke-width="0.55" />
<circle cx="539.8" cy="494.7" r="0.9" fill="#111"/>
<rect x="538.0" y="509.6" width="3.6" height="4.699999999999932" fill="white" stroke="#333" stroke-width="0.45"/>
<line x1="538" y1="512" x2="541.6" y2="512" stroke="#222" stroke-width="0.5" />
<path d="M576.80 502.70 C577.00 503.00 577.57 503.87 578.00 504.50 C578.43 505.13 578.80 505.87 579.40 506.50 C580.00 507.13 580.62 507.75 581.60 508.30 C582.58 508.85 583.93 509.38 585.30 509.80 C586.67 510.22 588.17 510.53 589.80 510.80 C591.43 511.07 595.10 511.17 595.10 511.40 C595.10 511.63 591.43 511.85 589.80 512.20 C588.17 512.55 586.63 513.00 585.30 513.50 C583.97 514.00 582.78 514.58 581.80 515.20 C580.82 515.82 580.23 516.45 579.40 517.20 C578.57 517.95 577.23 519.28 576.80 519.70 L576.80 519.70 C576.37 519.28 575.03 517.95 574.20 517.20 C573.37 516.45 572.78 515.82 571.80 515.20 C570.82 514.58 569.63 514.00 568.30 513.50 C566.97 513.00 565.43 512.55 563.80 512.20 C562.17 511.85 558.50 511.63 558.50 511.40 C558.50 511.17 562.17 511.07 563.80 510.80 C565.43 510.53 566.93 510.22 568.30 509.80 C569.67 509.38 571.02 508.85 572.00 508.30 C572.98 507.75 573.60 507.13 574.20 506.50 C574.80 505.87 575.17 505.13 575.60 504.50 C576.03 503.87 576.60 503.00 576.80 502.70 Z" fill="#e7b800" stroke="#333" stroke-width="0.45"/>
<line x1="576.8" y1="496.5" x2="576.8" y2="503" stroke="#333" stroke-width="0.55" />
<circle cx="576.8" cy="497.5" r="0.7" fill="#111"/>
<rect x="575.0" y="509" width="3.6" height="5" fill="white" stroke="#333" stroke-width="0.45"/>
<line x1="575" y1="511.5" x2="578.6" y2="511.5" stroke="#222" stroke-width="0.5" />
<text x="555.8" y="495.8" font-size="8.6" text-anchor="middle">p=0.26</text>
<path d="M623.60 498.40 C623.77 498.75 624.30 499.82 624.60 500.50 C624.90 501.18 625.15 501.82 625.40 502.50 C625.65 503.18 625.77 503.93 626.10 504.60 C626.43 505.27 626.73 505.85 627.40 506.50 C628.07 507.15 628.98 507.83 630.10 508.50 C631.22 509.17 632.95 509.80 634.10 510.50 C635.25 511.20 636.83 512.03 637.00 512.70 C637.17 513.37 636.00 513.87 635.10 514.50 C634.20 515.13 632.68 515.83 631.60 516.50 C630.52 517.17 629.50 517.83 628.60 518.50 C627.70 519.17 627.03 519.82 626.20 520.50 C625.37 521.18 624.03 522.25 623.60 522.60 L623.60 522.60 C623.17 522.25 621.83 521.18 621.00 520.50 C620.17 519.82 619.50 519.17 618.60 518.50 C617.70 517.83 616.68 517.17 615.60 516.50 C614.52 515.83 613.00 515.13 612.10 514.50 C611.20 513.87 610.03 513.37 610.20 512.70 C610.37 512.03 611.95 511.20 613.10 510.50 C614.25 509.80 615.98 509.17 617.10 508.50 C618.22 507.83 619.13 507.15 619.80 506.50 C620.47 505.85 620.77 505.27 621.10 504.60 C621.43 503.93 621.55 503.18 621.80 502.50 C622.05 501.82 622.30 501.18 622.60 500.50 C622.90 499.82 623.43 498.75 623.60 498.40 Z" fill="#00afbb" stroke="#333" stroke-width="0.45"/>
<line x1="623.6" y1="522" x2="623.6" y2="577" stroke="#333" stroke-width="0.6" />
<path d="M622.5 573.8 L624.7 573.8 L623.6 577.6 Z" fill="#222"/>
<rect x="621.8000000000001" y="510.8" width="3.6" height="4.999999999999943" fill="white" stroke="#333" stroke-width="0.45"/>
<line x1="621.8" y1="513.3" x2="625.4" y2="513.3" stroke="#222" stroke-width="0.5" />
<path d="M660.80 504.00 C661.13 504.25 662.05 505.00 662.80 505.50 C663.55 506.00 664.30 506.50 665.30 507.00 C666.30 507.50 667.38 508.00 668.80 508.50 C670.22 509.00 671.97 509.52 673.80 510.00 C675.63 510.48 679.80 510.97 679.80 511.40 C679.80 511.83 675.55 512.17 673.80 512.60 C672.05 513.03 670.63 513.48 669.30 514.00 C667.97 514.52 666.80 515.08 665.80 515.70 C664.80 516.32 664.13 517.03 663.30 517.70 C662.47 518.37 661.22 519.37 660.80 519.70 L660.80 519.70 C660.38 519.37 659.13 518.37 658.30 517.70 C657.47 517.03 656.80 516.32 655.80 515.70 C654.80 515.08 653.63 514.52 652.30 514.00 C650.97 513.48 649.55 513.03 647.80 512.60 C646.05 512.17 641.80 511.83 641.80 511.40 C641.80 510.97 645.97 510.48 647.80 510.00 C649.63 509.52 651.38 509.00 652.80 508.50 C654.22 508.00 655.30 507.50 656.30 507.00 C657.30 506.50 658.05 506.00 658.80 505.50 C659.55 505.00 660.47 504.25 660.80 504.00 Z" fill="#e7b800" stroke="#333" stroke-width="0.45"/>
<rect x="659.0" y="508.5" width="3.6" height="5.0" fill="white" stroke="#333" stroke-width="0.45"/>
<line x1="659" y1="511" x2="662.6" y2="511" stroke="#222" stroke-width="0.5" />
<text x="641.7" y="495.8" font-size="8.6" text-anchor="middle">p=0.083</text>
</svg>
</body></html>
